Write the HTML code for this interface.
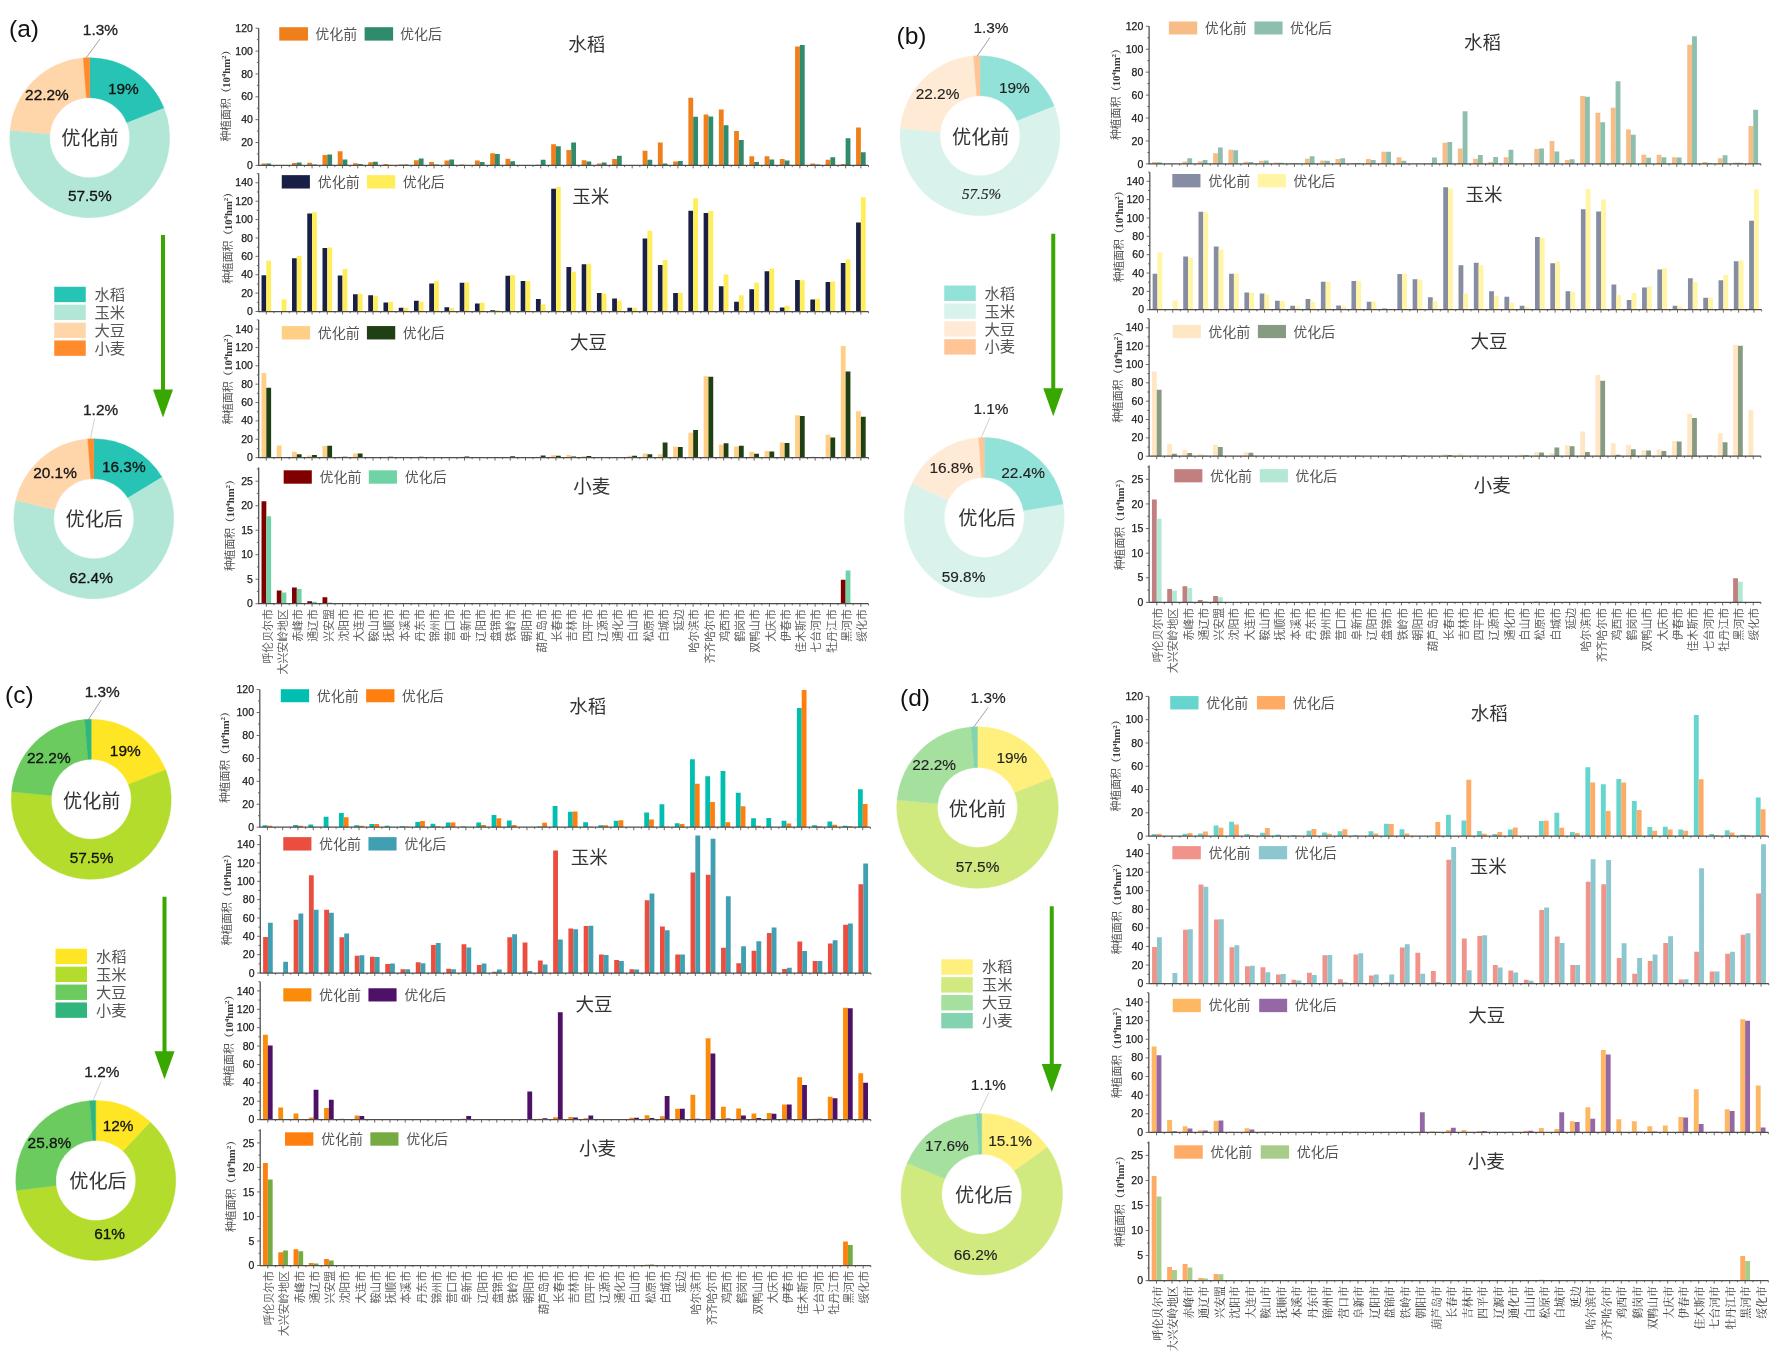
<!DOCTYPE html>
<html lang="zh"><head><meta charset="utf-8"><title>种植结构优化</title>
<style>
html,body{margin:0;padding:0;background:#fff;}
body{width:1777px;height:1358px;overflow:hidden;}
svg{display:block;font-family:"Liberation Sans","Noto Sans CJK SC",sans-serif;filter:blur(0.45px);}
</style></head><body>
<svg width="1777" height="1358" viewBox="0 0 1777 1358">
<rect width="1777" height="1358" fill="#fff"/>
<text x="9" y="37" font-size="24.5" fill="#111" text-anchor="start">(a)</text>
<path d="M89.7 57.7A80 80 0 0 1 164.08 108.25L126.89 122.98A40 40 0 0 0 89.7 97.7Z" fill="#27c4b5" stroke="#27c4b5" stroke-width="0.4"/>
<path d="M164.08 108.25A80 80 0 1 1 10.06 130.17L49.88 133.94A40 40 0 1 0 126.89 122.98Z" fill="#b2e7d8" stroke="#b2e7d8" stroke-width="0.4"/>
<path d="M10.06 130.17A80 80 0 0 1 83.17 57.97L86.44 97.83A40 40 0 0 0 49.88 133.94Z" fill="#ffd5aa" stroke="#ffd5aa" stroke-width="0.4"/>
<path d="M83.17 57.97A80 80 0 0 1 89.7 57.7L89.7 97.7A40 40 0 0 0 86.44 97.83Z" fill="#ff8b2c" stroke="#ff8b2c" stroke-width="0.4"/>
<path d="M100 39L86 58" stroke="#8a8a8a" stroke-width="0.8" fill="none"/>
<text x="123.4" y="94.04" font-size="15.4" fill="#111" text-anchor="middle" stroke="#111" stroke-width="0.3">19%</text>
<text x="89.75" y="200.54" font-size="15.4" fill="#111" text-anchor="middle" stroke="#111" stroke-width="0.3">57.5%</text>
<text x="46.9" y="100.29" font-size="15.4" fill="#111" text-anchor="middle" stroke="#111" stroke-width="0.3">22.2%</text>
<text x="100.4" y="34.94" font-size="15.4" fill="#222" text-anchor="middle" stroke="#222" stroke-width="0.3">1.3%</text>
<text x="90" y="145.22" font-size="19.2" fill="#333" text-anchor="middle">优化前</text>
<path d="M93.75 438.75A80 80 0 0 1 162.09 477.16L127.92 497.96A40 40 0 0 0 93.75 478.75Z" fill="#27c4b5" stroke="#27c4b5" stroke-width="0.4"/>
<path d="M162.09 477.16A80 80 0 1 1 15.9 500.32L54.83 509.53A40 40 0 1 0 127.92 497.96Z" fill="#b2e7d8" stroke="#b2e7d8" stroke-width="0.4"/>
<path d="M15.9 500.32A80 80 0 0 1 87.72 438.98L90.74 478.86A40 40 0 0 0 54.83 509.53Z" fill="#ffd5aa" stroke="#ffd5aa" stroke-width="0.4"/>
<path d="M87.72 438.98A80 80 0 0 1 93.75 438.75L93.75 478.75A40 40 0 0 0 90.74 478.86Z" fill="#ff8b2c" stroke="#ff8b2c" stroke-width="0.4"/>
<path d="M94.5 418.75L90.5 438.75" stroke="#c4c4c4" stroke-width="0.8" fill="none"/>
<text x="123.75" y="471.79" font-size="15.4" fill="#111" text-anchor="middle" stroke="#111" stroke-width="0.3">16.3%</text>
<text x="91" y="582.64" font-size="15.4" fill="#111" text-anchor="middle" stroke="#111" stroke-width="0.3">62.4%</text>
<text x="55" y="478.44" font-size="15.4" fill="#111" text-anchor="middle" stroke="#111" stroke-width="0.3">20.1%</text>
<text x="100.6" y="414.94" font-size="15.4" fill="#222" text-anchor="middle" stroke="#222" stroke-width="0.3">1.2%</text>
<text x="94.25" y="525.97" font-size="19.2" fill="#333" text-anchor="middle">优化后</text>
<rect x="54.25" y="286.75" width="31.5" height="15.4" fill="#27c4b5"/>
<text x="94.5" y="299.95" font-size="15.3" fill="#555" text-anchor="start">水稻</text>
<rect x="54.25" y="304.65" width="31.5" height="15.4" fill="#b2e7d8"/>
<text x="94.5" y="317.85" font-size="15.3" fill="#555" text-anchor="start">玉米</text>
<rect x="54.25" y="322.55" width="31.5" height="15.4" fill="#ffd5aa"/>
<text x="94.5" y="335.75" font-size="15.3" fill="#555" text-anchor="start">大豆</text>
<rect x="54.25" y="340.45" width="31.5" height="15.4" fill="#ff8b2c"/>
<text x="94.5" y="353.65" font-size="15.3" fill="#555" text-anchor="start">小麦</text>
<path d="M161 235h4V389.5h8L163 417.5L153 389.5h8z" fill="#38a700"/>
<path d="M261.52 165.4v-1.94h4.8v1.94zM292.01 165.4v-2.29h4.8v2.29zM307.26 165.4v-2.63h4.8v2.63zM322.5 165.4v-10.52h4.8v10.52zM337.75 165.4v-14.18h4.8v14.18zM352.99 165.4v-2.06h4.8v2.06zM368.24 165.4v-3.2h4.8v3.2zM383.48 165.4v-1.49h4.8v1.49zM398.73 165.4v-0.91h4.8v0.91zM413.97 165.4v-5.15h4.8v5.15zM429.22 165.4v-3.43h4.8v3.43zM444.46 165.4v-4.8h4.8v4.8zM459.71 165.4v-0.8h4.8v0.8zM474.95 165.4v-4.8h4.8v4.8zM490.2 165.4v-12.23h4.8v12.23zM505.44 165.4v-6.75h4.8v6.75zM535.93 165.4v-0.69h4.8v0.69zM551.18 165.4v-21.04h4.8v21.04zM566.42 165.4v-15.32h4.8v15.32zM581.67 165.4v-5.03h4.8v5.03zM596.91 165.4v-1.94h4.8v1.94zM612.16 165.4v-6.52h4.8v6.52zM642.65 165.4v-14.75h4.8v14.75zM657.89 165.4v-22.87h4.8v22.87zM673.14 165.4v-4h4.8v4zM688.38 165.4v-67.69h4.8v67.69zM703.63 165.4v-50.88h4.8v50.88zM718.87 165.4v-56.02h4.8v56.02zM734.12 165.4v-34.41h4.8v34.41zM749.36 165.4v-9.03h4.8v9.03zM764.61 165.4v-9.15h4.8v9.15zM779.85 165.4v-6.52h4.8v6.52zM795.1 165.4v-118.91h4.8v118.91zM810.34 165.4v-1.94h4.8v1.94zM825.59 165.4v-5.72h4.8v5.72zM840.83 165.4v-1.37h4.8v1.37zM856.08 165.4v-37.84h4.8v37.84z" fill="#ef7f1a"/>
<path d="M266.32 165.4v-1.94h4.8v1.94zM296.81 165.4v-2.86h4.8v2.86zM312.06 165.4v-0.91h4.8v0.91zM327.3 165.4v-10.86h4.8v10.86zM342.55 165.4v-5.95h4.8v5.95zM357.79 165.4v-1.37h4.8v1.37zM373.04 165.4v-3.77h4.8v3.77zM388.28 165.4v-0.34h4.8v0.34zM403.53 165.4v-0.8h4.8v0.8zM418.77 165.4v-6.86h4.8v6.86zM434.02 165.4v-0.91h4.8v0.91zM449.26 165.4v-5.95h4.8v5.95zM464.51 165.4v-0.11h4.8v0.11zM479.75 165.4v-3.43h4.8v3.43zM495 165.4v-11.43h4.8v11.43zM510.24 165.4v-4.23h4.8v4.23zM540.73 165.4v-5.72h4.8v5.72zM555.98 165.4v-19.09h4.8v19.09zM571.22 165.4v-22.87h4.8v22.87zM586.47 165.4v-4h4.8v4zM601.71 165.4v-2.86h4.8v2.86zM616.96 165.4v-9.72h4.8v9.72zM647.45 165.4v-5.72h4.8v5.72zM662.69 165.4v-1.94h4.8v1.94zM677.94 165.4v-4.34h4.8v4.34zM693.18 165.4v-48.59h4.8v48.59zM708.43 165.4v-48.82h4.8v48.82zM723.67 165.4v-40.13h4.8v40.13zM738.92 165.4v-25.5h4.8v25.5zM754.16 165.4v-3.43h4.8v3.43zM769.41 165.4v-5.95h4.8v5.95zM784.65 165.4v-4.8h4.8v4.8zM799.9 165.4v-120.51h4.8v120.51zM815.14 165.4v-0.91h4.8v0.91zM830.39 165.4v-8.23h4.8v8.23zM845.63 165.4v-27.21h4.8v27.21zM860.88 165.4v-13.03h4.8v13.03z" fill="#2f8b6b"/>
<path d="M258.7 165.4h-3.2M258.7 153.97h-1.8M258.7 142.53h-3.2M258.7 131.1h-1.8M258.7 119.67h-3.2M258.7 108.23h-1.8M258.7 96.8h-3.2M258.7 85.37h-1.8M258.7 73.93h-3.2M258.7 62.5h-1.8M258.7 51.07h-3.2M258.7 39.63h-1.8M258.7 28.2h-3.2M266.32 165.4v3M273.94 165.4v1.7M281.57 165.4v3M289.19 165.4v1.7M296.81 165.4v3M304.44 165.4v1.7M312.06 165.4v3M319.68 165.4v1.7M327.3 165.4v3M334.93 165.4v1.7M342.55 165.4v3M350.17 165.4v1.7M357.79 165.4v3M365.42 165.4v1.7M373.04 165.4v3M380.66 165.4v1.7M388.28 165.4v3M395.9 165.4v1.7M403.53 165.4v3M411.15 165.4v1.7M418.77 165.4v3M426.39 165.4v1.7M434.02 165.4v3M441.64 165.4v1.7M449.26 165.4v3M456.88 165.4v1.7M464.51 165.4v3M472.13 165.4v1.7M479.75 165.4v3M487.37 165.4v1.7M495 165.4v3M502.62 165.4v1.7M510.24 165.4v3M517.86 165.4v1.7M525.49 165.4v3M533.11 165.4v1.7M540.73 165.4v3M548.35 165.4v1.7M555.98 165.4v3M563.6 165.4v1.7M571.22 165.4v3M578.84 165.4v1.7M586.47 165.4v3M594.09 165.4v1.7M601.71 165.4v3M609.33 165.4v1.7M616.96 165.4v3M624.58 165.4v1.7M632.2 165.4v3M639.82 165.4v1.7M647.45 165.4v3M655.07 165.4v1.7M662.69 165.4v3M670.31 165.4v1.7M677.94 165.4v3M685.56 165.4v1.7M693.18 165.4v3M700.8 165.4v1.7M708.43 165.4v3M716.05 165.4v1.7M723.67 165.4v3M731.29 165.4v1.7M738.92 165.4v3M746.54 165.4v1.7M754.16 165.4v3M761.78 165.4v1.7M769.41 165.4v3M777.03 165.4v1.7M784.65 165.4v3M792.27 165.4v1.7M799.9 165.4v3M807.52 165.4v1.7M815.14 165.4v3M822.76 165.4v1.7M830.39 165.4v3M838.01 165.4v1.7M845.63 165.4v3M853.25 165.4v1.7M860.88 165.4v3M868.5 165.4v1.7" fill="none" stroke="#5a5a5a" stroke-width="0.9"/>
<path d="M258.7 28.2V165.4H868.5" fill="none" stroke="#4d4d4d" stroke-width="1.25"/>
<text x="252.9" y="169" font-size="10.5" fill="#1a1a1a" text-anchor="end" stroke="#1a1a1a" stroke-width="0.25">0</text>
<text x="252.9" y="146.13" font-size="10.5" fill="#1a1a1a" text-anchor="end" stroke="#1a1a1a" stroke-width="0.25">20</text>
<text x="252.9" y="123.27" font-size="10.5" fill="#1a1a1a" text-anchor="end" stroke="#1a1a1a" stroke-width="0.25">40</text>
<text x="252.9" y="100.4" font-size="10.5" fill="#1a1a1a" text-anchor="end" stroke="#1a1a1a" stroke-width="0.25">60</text>
<text x="252.9" y="77.53" font-size="10.5" fill="#1a1a1a" text-anchor="end" stroke="#1a1a1a" stroke-width="0.25">80</text>
<text x="252.9" y="54.67" font-size="10.5" fill="#1a1a1a" text-anchor="end" stroke="#1a1a1a" stroke-width="0.25">100</text>
<text x="252.9" y="31.8" font-size="10.5" fill="#1a1a1a" text-anchor="end" stroke="#1a1a1a" stroke-width="0.25">120</text>
<text transform="translate(230 141.5) rotate(-90)" text-anchor="start" font-size="10.8" fill="#555">种植面积<tspan font-family='"Liberation Serif","Noto Serif CJK SC",serif' fill="#3a3a3a" font-weight="bold" font-size="10.6">（10<tspan font-size="7" dy="-3.8">4</tspan><tspan dy="3.8">hm</tspan><tspan font-size="7" dy="-3.8">2</tspan><tspan dy="3.8">）</tspan></tspan></text>
<rect x="279.27" y="27.22" width="28.7" height="13.39" fill="#ef7f1a"/>
<rect x="364.61" y="27.22" width="28.51" height="13.39" fill="#2f8b6b"/>
<text x="315.24" y="38.92" font-size="14" fill="#555" text-anchor="start">优化前</text>
<text x="400.01" y="38.92" font-size="14" fill="#555" text-anchor="start">优化后</text>
<text x="586.88" y="51.04" font-size="18.5" fill="#333" text-anchor="middle">水稻</text>
<path d="M261.52 311.5v-36.13h4.8v36.13zM292.01 311.5v-53.32h4.8v53.32zM307.26 311.5v-98.09h4.8v98.09zM322.5 311.5v-63.43h4.8v63.43zM337.75 311.5v-35.94h4.8v35.94zM352.99 311.5v-17.28h4.8v17.28zM368.24 311.5v-16.18h4.8v16.18zM383.48 311.5v-9.01h4.8v9.01zM398.73 311.5v-3.86h4.8v3.86zM413.97 311.5v-10.76h4.8v10.76zM429.22 311.5v-28.04h4.8v28.04zM444.46 311.5v-4.23h4.8v4.23zM459.71 311.5v-28.87h4.8v28.87zM474.95 311.5v-7.91h4.8v7.91zM490.2 311.5v-1.2h4.8v1.2zM505.44 311.5v-35.76h4.8v35.76zM520.69 311.5v-30.61h4.8v30.61zM535.93 311.5v-12.5h4.8v12.5zM551.18 311.5v-122.72h4.8v122.72zM566.42 311.5v-44.59h4.8v44.59zM581.67 311.5v-47.16h4.8v47.16zM596.91 311.5v-18.48h4.8v18.48zM612.16 311.5v-13.05h4.8v13.05zM627.4 311.5v-3.86h4.8v3.86zM642.65 311.5v-72.9h4.8v72.9zM657.89 311.5v-46.52h4.8v46.52zM673.14 311.5v-18.48h4.8v18.48zM688.38 311.5v-100.75h4.8v100.75zM703.63 311.5v-98.46h4.8v98.46zM718.87 311.5v-25.37h4.8v25.37zM734.12 311.5v-9.65h4.8v9.65zM749.36 311.5v-22.34h4.8v22.34zM764.61 311.5v-40.17h4.8v40.17zM779.85 311.5v-4.04h4.8v4.04zM795.1 311.5v-31.53h4.8v31.53zM810.34 311.5v-11.95h4.8v11.95zM825.59 311.5v-29.6h4.8v29.6zM840.83 311.5v-48.45h4.8v48.45zM856.08 311.5v-89.08h4.8v89.08z" fill="#1a1f45"/>
<path d="M266.32 311.5v-50.74h4.8v50.74zM281.57 311.5v-12.32h4.8v12.32zM296.81 311.5v-55.43h4.8v55.43zM312.06 311.5v-99.28h4.8v99.28zM327.3 311.5v-63.89h4.8v63.89zM342.55 311.5v-42.47h4.8v42.47zM357.79 311.5v-17.65h4.8v17.65zM373.04 311.5v-15.81h4.8v15.81zM388.28 311.5v-9.65h4.8v9.65zM403.53 311.5v-3.86h4.8v3.86zM418.77 311.5v-9.65h4.8v9.65zM434.02 311.5v-30.24h4.8v30.24zM449.26 311.5v-3.49h4.8v3.49zM464.51 311.5v-29.23h4.8v29.23zM479.75 311.5v-8.83h4.8v8.83zM495 311.5v-1.56h4.8v1.56zM510.24 311.5v-36.59h4.8v36.59zM525.49 311.5v-30.61h4.8v30.61zM540.73 311.5v-7.35h4.8v7.35zM555.98 311.5v-124.47h4.8v124.47zM571.22 311.5v-39.81h4.8v39.81zM586.47 311.5v-47.71h4.8v47.71zM601.71 311.5v-17.74h4.8v17.74zM616.96 311.5v-10.76h4.8v10.76zM632.2 311.5v-3.86h4.8v3.86zM647.45 311.5v-80.81h4.8v80.81zM662.69 311.5v-51.39h4.8v51.39zM677.94 311.5v-18.66h4.8v18.66zM693.18 311.5v-113.26h4.8v113.26zM708.43 311.5v-100.39h4.8v100.39zM723.67 311.5v-36.96h4.8v36.96zM738.92 311.5v-16.18h4.8v16.18zM754.16 311.5v-28.87h4.8v28.87zM769.41 311.5v-43.11h4.8v43.11zM784.65 311.5v-5.79h4.8v5.79zM799.9 311.5v-31.16h4.8v31.16zM815.14 311.5v-12.69h4.8v12.69zM830.39 311.5v-29.97h4.8v29.97zM845.63 311.5v-51.94h4.8v51.94zM860.88 311.5v-114.27h4.8v114.27z" fill="#ffee5a"/>
<path d="M258.7 311.5h-3.2M258.7 302.31h-1.8M258.7 293.11h-3.2M258.7 283.92h-1.8M258.7 274.73h-3.2M258.7 265.54h-1.8M258.7 256.34h-3.2M258.7 247.15h-1.8M258.7 237.96h-3.2M258.7 228.76h-1.8M258.7 219.57h-3.2M258.7 210.38h-1.8M258.7 201.19h-3.2M258.7 191.99h-1.8M258.7 182.8h-3.2M258.7 173.61h-1.8M266.32 311.5v3M273.94 311.5v1.7M281.57 311.5v3M289.19 311.5v1.7M296.81 311.5v3M304.44 311.5v1.7M312.06 311.5v3M319.68 311.5v1.7M327.3 311.5v3M334.93 311.5v1.7M342.55 311.5v3M350.17 311.5v1.7M357.79 311.5v3M365.42 311.5v1.7M373.04 311.5v3M380.66 311.5v1.7M388.28 311.5v3M395.9 311.5v1.7M403.53 311.5v3M411.15 311.5v1.7M418.77 311.5v3M426.39 311.5v1.7M434.02 311.5v3M441.64 311.5v1.7M449.26 311.5v3M456.88 311.5v1.7M464.51 311.5v3M472.13 311.5v1.7M479.75 311.5v3M487.37 311.5v1.7M495 311.5v3M502.62 311.5v1.7M510.24 311.5v3M517.86 311.5v1.7M525.49 311.5v3M533.11 311.5v1.7M540.73 311.5v3M548.35 311.5v1.7M555.98 311.5v3M563.6 311.5v1.7M571.22 311.5v3M578.84 311.5v1.7M586.47 311.5v3M594.09 311.5v1.7M601.71 311.5v3M609.33 311.5v1.7M616.96 311.5v3M624.58 311.5v1.7M632.2 311.5v3M639.82 311.5v1.7M647.45 311.5v3M655.07 311.5v1.7M662.69 311.5v3M670.31 311.5v1.7M677.94 311.5v3M685.56 311.5v1.7M693.18 311.5v3M700.8 311.5v1.7M708.43 311.5v3M716.05 311.5v1.7M723.67 311.5v3M731.29 311.5v1.7M738.92 311.5v3M746.54 311.5v1.7M754.16 311.5v3M761.78 311.5v1.7M769.41 311.5v3M777.03 311.5v1.7M784.65 311.5v3M792.27 311.5v1.7M799.9 311.5v3M807.52 311.5v1.7M815.14 311.5v3M822.76 311.5v1.7M830.39 311.5v3M838.01 311.5v1.7M845.63 311.5v3M853.25 311.5v1.7M860.88 311.5v3M868.5 311.5v1.7" fill="none" stroke="#5a5a5a" stroke-width="0.9"/>
<path d="M258.7 173.61V311.5H868.5" fill="none" stroke="#4d4d4d" stroke-width="1.25"/>
<text x="252.9" y="315.1" font-size="10.5" fill="#1a1a1a" text-anchor="end" stroke="#1a1a1a" stroke-width="0.25">0</text>
<text x="252.9" y="296.71" font-size="10.5" fill="#1a1a1a" text-anchor="end" stroke="#1a1a1a" stroke-width="0.25">20</text>
<text x="252.9" y="278.33" font-size="10.5" fill="#1a1a1a" text-anchor="end" stroke="#1a1a1a" stroke-width="0.25">40</text>
<text x="252.9" y="259.94" font-size="10.5" fill="#1a1a1a" text-anchor="end" stroke="#1a1a1a" stroke-width="0.25">60</text>
<text x="252.9" y="241.56" font-size="10.5" fill="#1a1a1a" text-anchor="end" stroke="#1a1a1a" stroke-width="0.25">80</text>
<text x="252.9" y="223.17" font-size="10.5" fill="#1a1a1a" text-anchor="end" stroke="#1a1a1a" stroke-width="0.25">100</text>
<text x="252.9" y="204.79" font-size="10.5" fill="#1a1a1a" text-anchor="end" stroke="#1a1a1a" stroke-width="0.25">120</text>
<text x="252.9" y="186.4" font-size="10.5" fill="#1a1a1a" text-anchor="end" stroke="#1a1a1a" stroke-width="0.25">140</text>
<text transform="translate(231.5 283.8) rotate(-90)" text-anchor="start" font-size="10.8" fill="#555">种植面积<tspan font-family='"Liberation Serif","Noto Serif CJK SC",serif' fill="#3a3a3a" font-weight="bold" font-size="10.6">（10<tspan font-size="7" dy="-3.8">4</tspan><tspan dy="3.8">hm</tspan><tspan font-size="7" dy="-3.8">2</tspan><tspan dy="3.8">）</tspan></tspan></text>
<rect x="281.76" y="175.14" width="28.13" height="13.39" fill="#1a1f45"/>
<rect x="366.91" y="175.14" width="28.32" height="13.39" fill="#ffee5a"/>
<text x="317.73" y="186.84" font-size="14" fill="#555" text-anchor="start">优化前</text>
<text x="402.69" y="186.84" font-size="14" fill="#555" text-anchor="start">优化后</text>
<text x="590.71" y="202.5" font-size="18.5" fill="#333" text-anchor="middle">玉米</text>
<path d="M261.52 457.6v-84.72h4.8v84.72zM276.77 457.6v-12.12h4.8v12.12zM292.01 457.6v-5.97h4.8v5.97zM307.26 457.6v-2.11h4.8v2.11zM322.5 457.6v-11.56h4.8v11.56zM337.75 457.6v-0.73h4.8v0.73zM352.99 457.6v-4.04h4.8v4.04zM368.24 457.6v-0.55h4.8v0.55zM383.48 457.6v-0.37h4.8v0.37zM413.97 457.6v-0.55h4.8v0.55zM429.22 457.6v-0.18h4.8v0.18zM459.71 457.6v-0.73h4.8v0.73zM505.44 457.6v-0.55h4.8v0.55zM520.69 457.6v-0.28h4.8v0.28zM535.93 457.6v-0.92h4.8v0.92zM551.18 457.6v-2.29h4.8v2.29zM566.42 457.6v-2.48h4.8v2.48zM581.67 457.6v-1.38h4.8v1.38zM596.91 457.6v-0.55h4.8v0.55zM612.16 457.6v-0.55h4.8v0.55zM627.4 457.6v-1.74h4.8v1.74zM642.65 457.6v-4.22h4.8v4.22zM657.89 457.6v-3.3h4.8v3.3zM673.14 457.6v-10.92h4.8v10.92zM688.38 457.6v-24.78h4.8v24.78zM703.63 457.6v-81.23h4.8v81.23zM718.87 457.6v-12.85h4.8v12.85zM734.12 457.6v-11.11h4.8v11.11zM749.36 457.6v-5.97h4.8v5.97zM764.61 457.6v-6.7h4.8v6.7zM779.85 457.6v-15.14h4.8v15.14zM795.1 457.6v-42.41h4.8v42.41zM810.34 457.6v-0.73h4.8v0.73zM825.59 457.6v-22.85h4.8v22.85zM840.83 457.6v-111.61h4.8v111.61zM856.08 457.6v-46.26h4.8v46.26z" fill="#ffcf85"/>
<path d="M266.32 457.6v-69.94h4.8v69.94zM281.57 457.6v-0.37h4.8v0.37zM296.81 457.6v-3.3h4.8v3.3zM312.06 457.6v-2.48h4.8v2.48zM327.3 457.6v-11.93h4.8v11.93zM342.55 457.6v-0.92h4.8v0.92zM357.79 457.6v-4.04h4.8v4.04zM373.04 457.6v-0.55h4.8v0.55zM388.28 457.6v-0.73h4.8v0.73zM418.77 457.6v-0.73h4.8v0.73zM434.02 457.6v-0.18h4.8v0.18zM464.51 457.6v-1.19h4.8v1.19zM510.24 457.6v-1.38h4.8v1.38zM525.49 457.6v-0.18h4.8v0.18zM540.73 457.6v-2.11h4.8v2.11zM555.98 457.6v-1.74h4.8v1.74zM571.22 457.6v-1.19h4.8v1.19zM586.47 457.6v-1.56h4.8v1.56zM601.71 457.6v-0.37h4.8v0.37zM616.96 457.6v-0.37h4.8v0.37zM632.2 457.6v-1.93h4.8v1.93zM647.45 457.6v-3.3h4.8v3.3zM662.69 457.6v-15.14h4.8v15.14zM677.94 457.6v-10.56h4.8v10.56zM693.18 457.6v-27.63h4.8v27.63zM708.43 457.6v-80.86h4.8v80.86zM723.67 457.6v-14.23h4.8v14.23zM738.92 457.6v-11.93h4.8v11.93zM754.16 457.6v-3.85h4.8v3.85zM769.41 457.6v-6.15h4.8v6.15zM784.65 457.6v-14.59h4.8v14.59zM799.9 457.6v-41.49h4.8v41.49zM815.14 457.6v-0.55h4.8v0.55zM830.39 457.6v-20.19h4.8v20.19zM845.63 457.6v-86h4.8v86zM860.88 457.6v-40.75h4.8v40.75z" fill="#1e4012"/>
<path d="M258.7 457.6h-3.2M258.7 448.42h-1.8M258.7 439.24h-3.2M258.7 430.06h-1.8M258.7 420.89h-3.2M258.7 411.71h-1.8M258.7 402.53h-3.2M258.7 393.35h-1.8M258.7 384.17h-3.2M258.7 374.99h-1.8M258.7 365.81h-3.2M258.7 356.64h-1.8M258.7 347.46h-3.2M258.7 338.28h-1.8M258.7 329.1h-3.2M258.7 319.92h-1.8M266.32 457.6v3M273.94 457.6v1.7M281.57 457.6v3M289.19 457.6v1.7M296.81 457.6v3M304.44 457.6v1.7M312.06 457.6v3M319.68 457.6v1.7M327.3 457.6v3M334.93 457.6v1.7M342.55 457.6v3M350.17 457.6v1.7M357.79 457.6v3M365.42 457.6v1.7M373.04 457.6v3M380.66 457.6v1.7M388.28 457.6v3M395.9 457.6v1.7M403.53 457.6v3M411.15 457.6v1.7M418.77 457.6v3M426.39 457.6v1.7M434.02 457.6v3M441.64 457.6v1.7M449.26 457.6v3M456.88 457.6v1.7M464.51 457.6v3M472.13 457.6v1.7M479.75 457.6v3M487.37 457.6v1.7M495 457.6v3M502.62 457.6v1.7M510.24 457.6v3M517.86 457.6v1.7M525.49 457.6v3M533.11 457.6v1.7M540.73 457.6v3M548.35 457.6v1.7M555.98 457.6v3M563.6 457.6v1.7M571.22 457.6v3M578.84 457.6v1.7M586.47 457.6v3M594.09 457.6v1.7M601.71 457.6v3M609.33 457.6v1.7M616.96 457.6v3M624.58 457.6v1.7M632.2 457.6v3M639.82 457.6v1.7M647.45 457.6v3M655.07 457.6v1.7M662.69 457.6v3M670.31 457.6v1.7M677.94 457.6v3M685.56 457.6v1.7M693.18 457.6v3M700.8 457.6v1.7M708.43 457.6v3M716.05 457.6v1.7M723.67 457.6v3M731.29 457.6v1.7M738.92 457.6v3M746.54 457.6v1.7M754.16 457.6v3M761.78 457.6v1.7M769.41 457.6v3M777.03 457.6v1.7M784.65 457.6v3M792.27 457.6v1.7M799.9 457.6v3M807.52 457.6v1.7M815.14 457.6v3M822.76 457.6v1.7M830.39 457.6v3M838.01 457.6v1.7M845.63 457.6v3M853.25 457.6v1.7M860.88 457.6v3M868.5 457.6v1.7" fill="none" stroke="#5a5a5a" stroke-width="0.9"/>
<path d="M258.7 319.92V457.6H868.5" fill="none" stroke="#4d4d4d" stroke-width="1.25"/>
<text x="252.9" y="461.2" font-size="10.5" fill="#1a1a1a" text-anchor="end" stroke="#1a1a1a" stroke-width="0.25">0</text>
<text x="252.9" y="442.84" font-size="10.5" fill="#1a1a1a" text-anchor="end" stroke="#1a1a1a" stroke-width="0.25">20</text>
<text x="252.9" y="424.49" font-size="10.5" fill="#1a1a1a" text-anchor="end" stroke="#1a1a1a" stroke-width="0.25">40</text>
<text x="252.9" y="406.13" font-size="10.5" fill="#1a1a1a" text-anchor="end" stroke="#1a1a1a" stroke-width="0.25">60</text>
<text x="252.9" y="387.77" font-size="10.5" fill="#1a1a1a" text-anchor="end" stroke="#1a1a1a" stroke-width="0.25">80</text>
<text x="252.9" y="369.41" font-size="10.5" fill="#1a1a1a" text-anchor="end" stroke="#1a1a1a" stroke-width="0.25">100</text>
<text x="252.9" y="351.06" font-size="10.5" fill="#1a1a1a" text-anchor="end" stroke="#1a1a1a" stroke-width="0.25">120</text>
<text x="252.9" y="332.7" font-size="10.5" fill="#1a1a1a" text-anchor="end" stroke="#1a1a1a" stroke-width="0.25">140</text>
<text transform="translate(231.5 424.6) rotate(-90)" text-anchor="start" font-size="10.8" fill="#555">种植面积<tspan font-family='"Liberation Serif","Noto Serif CJK SC",serif' fill="#3a3a3a" font-weight="bold" font-size="10.6">（10<tspan font-size="7" dy="-3.8">4</tspan><tspan dy="3.8">hm</tspan><tspan font-size="7" dy="-3.8">2</tspan><tspan dy="3.8">）</tspan></tspan></text>
<rect x="281.76" y="326.07" width="28.32" height="13.39" fill="#ffcf85"/>
<rect x="366.91" y="326.07" width="28.32" height="13.39" fill="#1e4012"/>
<text x="317.73" y="337.77" font-size="14" fill="#555" text-anchor="start">优化前</text>
<text x="402.69" y="337.77" font-size="14" fill="#555" text-anchor="start">优化后</text>
<text x="588.51" y="349.13" font-size="18.5" fill="#333" text-anchor="middle">大豆</text>
<path d="M261.52 603.7v-102.41h4.8v102.41zM276.77 603.7v-13.23h4.8v13.23zM292.01 603.7v-16.17h4.8v16.17zM307.26 603.7v-2.45h4.8v2.45zM322.5 603.7v-6.37h4.8v6.37zM337.75 603.7v-0.49h4.8v0.49zM642.65 603.7v-0.74h4.8v0.74zM657.89 603.7v-0.49h4.8v0.49zM840.83 603.7v-24.01h4.8v24.01zM856.08 603.7v-0.25h4.8v0.25z" fill="#800000"/>
<path d="M266.32 603.7v-87.47h4.8v87.47zM281.57 603.7v-11.27h4.8v11.27zM296.81 603.7v-14.7h4.8v14.7zM312.06 603.7v-1.96h4.8v1.96zM327.3 603.7v-1.23h4.8v1.23zM342.55 603.7v-0.49h4.8v0.49zM647.45 603.7v-0.49h4.8v0.49zM662.69 603.7v-0.25h4.8v0.25zM845.63 603.7v-33.08h4.8v33.08zM860.88 603.7v-0.15h4.8v0.15z" fill="#6fd3a6"/>
<path d="M258.7 603.7h-3.2M258.7 591.45h-1.8M258.7 579.2h-3.2M258.7 566.95h-1.8M258.7 554.7h-3.2M258.7 542.45h-1.8M258.7 530.2h-3.2M258.7 517.95h-1.8M258.7 505.7h-3.2M258.7 493.45h-1.8M258.7 481.2h-3.2M258.7 468.95h-1.8M266.32 603.7v3M273.94 603.7v1.7M281.57 603.7v3M289.19 603.7v1.7M296.81 603.7v3M304.44 603.7v1.7M312.06 603.7v3M319.68 603.7v1.7M327.3 603.7v3M334.93 603.7v1.7M342.55 603.7v3M350.17 603.7v1.7M357.79 603.7v3M365.42 603.7v1.7M373.04 603.7v3M380.66 603.7v1.7M388.28 603.7v3M395.9 603.7v1.7M403.53 603.7v3M411.15 603.7v1.7M418.77 603.7v3M426.39 603.7v1.7M434.02 603.7v3M441.64 603.7v1.7M449.26 603.7v3M456.88 603.7v1.7M464.51 603.7v3M472.13 603.7v1.7M479.75 603.7v3M487.37 603.7v1.7M495 603.7v3M502.62 603.7v1.7M510.24 603.7v3M517.86 603.7v1.7M525.49 603.7v3M533.11 603.7v1.7M540.73 603.7v3M548.35 603.7v1.7M555.98 603.7v3M563.6 603.7v1.7M571.22 603.7v3M578.84 603.7v1.7M586.47 603.7v3M594.09 603.7v1.7M601.71 603.7v3M609.33 603.7v1.7M616.96 603.7v3M624.58 603.7v1.7M632.2 603.7v3M639.82 603.7v1.7M647.45 603.7v3M655.07 603.7v1.7M662.69 603.7v3M670.31 603.7v1.7M677.94 603.7v3M685.56 603.7v1.7M693.18 603.7v3M700.8 603.7v1.7M708.43 603.7v3M716.05 603.7v1.7M723.67 603.7v3M731.29 603.7v1.7M738.92 603.7v3M746.54 603.7v1.7M754.16 603.7v3M761.78 603.7v1.7M769.41 603.7v3M777.03 603.7v1.7M784.65 603.7v3M792.27 603.7v1.7M799.9 603.7v3M807.52 603.7v1.7M815.14 603.7v3M822.76 603.7v1.7M830.39 603.7v3M838.01 603.7v1.7M845.63 603.7v3M853.25 603.7v1.7M860.88 603.7v3M868.5 603.7v1.7" fill="none" stroke="#5a5a5a" stroke-width="0.9"/>
<path d="M258.7 467.48V603.7H868.5" fill="none" stroke="#4d4d4d" stroke-width="1.25"/>
<text x="252.9" y="607.3" font-size="10.5" fill="#1a1a1a" text-anchor="end" stroke="#1a1a1a" stroke-width="0.25">0</text>
<text x="252.9" y="582.8" font-size="10.5" fill="#1a1a1a" text-anchor="end" stroke="#1a1a1a" stroke-width="0.25">5</text>
<text x="252.9" y="558.3" font-size="10.5" fill="#1a1a1a" text-anchor="end" stroke="#1a1a1a" stroke-width="0.25">10</text>
<text x="252.9" y="533.8" font-size="10.5" fill="#1a1a1a" text-anchor="end" stroke="#1a1a1a" stroke-width="0.25">15</text>
<text x="252.9" y="509.3" font-size="10.5" fill="#1a1a1a" text-anchor="end" stroke="#1a1a1a" stroke-width="0.25">20</text>
<text x="252.9" y="484.8" font-size="10.5" fill="#1a1a1a" text-anchor="end" stroke="#1a1a1a" stroke-width="0.25">25</text>
<text transform="translate(233.8 571.1) rotate(-90)" text-anchor="start" font-size="10.8" fill="#555">种植面积<tspan font-family='"Liberation Serif","Noto Serif CJK SC",serif' fill="#3a3a3a" font-weight="bold" font-size="10.6">（10<tspan font-size="7" dy="-3.8">4</tspan><tspan dy="3.8">hm</tspan><tspan font-size="7" dy="-3.8">2</tspan><tspan dy="3.8">）</tspan></tspan></text>
<rect x="283.67" y="470.31" width="28.13" height="13.39" fill="#800000"/>
<rect x="368.82" y="470.31" width="28.13" height="13.39" fill="#6fd3a6"/>
<text x="319.45" y="482.01" font-size="14" fill="#555" text-anchor="start">优化前</text>
<text x="404.8" y="482.01" font-size="14" fill="#555" text-anchor="start">优化后</text>
<text x="591.66" y="492.69" font-size="18.5" fill="#333" text-anchor="middle">小麦</text>
<text transform="translate(271.52 609.1) rotate(-90)" text-anchor="end" font-size="10.9" fill="#606060">呼伦贝尔市</text>
<text transform="translate(286.77 609.1) rotate(-90)" text-anchor="end" font-size="10.9" fill="#606060">大兴安岭地区</text>
<text transform="translate(302.01 609.1) rotate(-90)" text-anchor="end" font-size="10.9" fill="#606060">赤峰市</text>
<text transform="translate(317.26 609.1) rotate(-90)" text-anchor="end" font-size="10.9" fill="#606060">通辽市</text>
<text transform="translate(332.5 609.1) rotate(-90)" text-anchor="end" font-size="10.9" fill="#606060">兴安盟</text>
<text transform="translate(347.75 609.1) rotate(-90)" text-anchor="end" font-size="10.9" fill="#606060">沈阳市</text>
<text transform="translate(362.99 609.1) rotate(-90)" text-anchor="end" font-size="10.9" fill="#606060">大连市</text>
<text transform="translate(378.24 609.1) rotate(-90)" text-anchor="end" font-size="10.9" fill="#606060">鞍山市</text>
<text transform="translate(393.48 609.1) rotate(-90)" text-anchor="end" font-size="10.9" fill="#606060">抚顺市</text>
<text transform="translate(408.73 609.1) rotate(-90)" text-anchor="end" font-size="10.9" fill="#606060">本溪市</text>
<text transform="translate(423.97 609.1) rotate(-90)" text-anchor="end" font-size="10.9" fill="#606060">丹东市</text>
<text transform="translate(439.22 609.1) rotate(-90)" text-anchor="end" font-size="10.9" fill="#606060">锦州市</text>
<text transform="translate(454.46 609.1) rotate(-90)" text-anchor="end" font-size="10.9" fill="#606060">营口市</text>
<text transform="translate(469.71 609.1) rotate(-90)" text-anchor="end" font-size="10.9" fill="#606060">阜新市</text>
<text transform="translate(484.95 609.1) rotate(-90)" text-anchor="end" font-size="10.9" fill="#606060">辽阳市</text>
<text transform="translate(500.2 609.1) rotate(-90)" text-anchor="end" font-size="10.9" fill="#606060">盘锦市</text>
<text transform="translate(515.44 609.1) rotate(-90)" text-anchor="end" font-size="10.9" fill="#606060">铁岭市</text>
<text transform="translate(530.69 609.1) rotate(-90)" text-anchor="end" font-size="10.9" fill="#606060">朝阳市</text>
<text transform="translate(545.93 609.1) rotate(-90)" text-anchor="end" font-size="10.9" fill="#606060">葫芦岛市</text>
<text transform="translate(561.18 609.1) rotate(-90)" text-anchor="end" font-size="10.9" fill="#606060">长春市</text>
<text transform="translate(576.42 609.1) rotate(-90)" text-anchor="end" font-size="10.9" fill="#606060">吉林市</text>
<text transform="translate(591.67 609.1) rotate(-90)" text-anchor="end" font-size="10.9" fill="#606060">四平市</text>
<text transform="translate(606.91 609.1) rotate(-90)" text-anchor="end" font-size="10.9" fill="#606060">辽源市</text>
<text transform="translate(622.16 609.1) rotate(-90)" text-anchor="end" font-size="10.9" fill="#606060">通化市</text>
<text transform="translate(637.4 609.1) rotate(-90)" text-anchor="end" font-size="10.9" fill="#606060">白山市</text>
<text transform="translate(652.65 609.1) rotate(-90)" text-anchor="end" font-size="10.9" fill="#606060">松原市</text>
<text transform="translate(667.89 609.1) rotate(-90)" text-anchor="end" font-size="10.9" fill="#606060">白城市</text>
<text transform="translate(683.14 609.1) rotate(-90)" text-anchor="end" font-size="10.9" fill="#606060">延边</text>
<text transform="translate(698.38 609.1) rotate(-90)" text-anchor="end" font-size="10.9" fill="#606060">哈尔滨市</text>
<text transform="translate(713.63 609.1) rotate(-90)" text-anchor="end" font-size="10.9" fill="#606060">齐齐哈尔市</text>
<text transform="translate(728.87 609.1) rotate(-90)" text-anchor="end" font-size="10.9" fill="#606060">鸡西市</text>
<text transform="translate(744.12 609.1) rotate(-90)" text-anchor="end" font-size="10.9" fill="#606060">鹤岗市</text>
<text transform="translate(759.36 609.1) rotate(-90)" text-anchor="end" font-size="10.9" fill="#606060">双鸭山市</text>
<text transform="translate(774.61 609.1) rotate(-90)" text-anchor="end" font-size="10.9" fill="#606060">大庆市</text>
<text transform="translate(789.85 609.1) rotate(-90)" text-anchor="end" font-size="10.9" fill="#606060">伊春市</text>
<text transform="translate(805.1 609.1) rotate(-90)" text-anchor="end" font-size="10.9" fill="#606060">佳木斯市</text>
<text transform="translate(820.34 609.1) rotate(-90)" text-anchor="end" font-size="10.9" fill="#606060">七台河市</text>
<text transform="translate(835.59 609.1) rotate(-90)" text-anchor="end" font-size="10.9" fill="#606060">牡丹江市</text>
<text transform="translate(850.83 609.1) rotate(-90)" text-anchor="end" font-size="10.9" fill="#606060">黑河市</text>
<text transform="translate(866.08 609.1) rotate(-90)" text-anchor="end" font-size="10.9" fill="#606060">绥化市</text>
<text x="896.5" y="43.5" font-size="24.5" fill="#111" text-anchor="start">(b)</text>
<path d="M980 55.75A80 80 0 0 1 1054.38 106.3L1017.19 121.03A40 40 0 0 0 980 95.75Z" fill="#93e2da" stroke="#93e2da" stroke-width="0.4"/>
<path d="M1054.38 106.3A80 80 0 1 1 900.36 128.22L940.18 131.99A40 40 0 1 0 1017.19 121.03Z" fill="#d9f3ec" stroke="#d9f3ec" stroke-width="0.4"/>
<path d="M900.36 128.22A80 80 0 0 1 973.47 56.02L976.74 95.88A40 40 0 0 0 940.18 131.99Z" fill="#ffead5" stroke="#ffead5" stroke-width="0.4"/>
<path d="M973.47 56.02A80 80 0 0 1 980 55.75L980 95.75A40 40 0 0 0 976.74 95.88Z" fill="#ffc596" stroke="#ffc596" stroke-width="0.4"/>
<path d="M990 37.5L977 56.25" stroke="#8a8a8a" stroke-width="0.8" fill="none"/>
<text x="1014.4" y="92.64" font-size="15.4" fill="#222" text-anchor="middle" stroke="#222" stroke-width="0.15">19%</text>
<text x="981.55" y="199.17" font-size="15.2" fill="#2a2a2a" text-anchor="middle" font-family='"Liberation Serif","Noto Serif CJK SC",serif' font-style="italic" stroke="#2a2a2a" stroke-width="0.2">57.5%</text>
<text x="937.5" y="99.04" font-size="15.4" fill="#222" text-anchor="middle" stroke="#222" stroke-width="0.15">22.2%</text>
<text x="991" y="33.44" font-size="15.4" fill="#222" text-anchor="middle" stroke="#222" stroke-width="0.15">1.3%</text>
<text x="980.75" y="144.32" font-size="19.2" fill="#333" text-anchor="middle">优化前</text>
<path d="M984.25 437.5A80 80 0 0 1 1063.17 504.38L1023.71 510.94A40 40 0 0 0 984.25 477.5Z" fill="#93e2da" stroke="#93e2da" stroke-width="0.4"/>
<path d="M1063.17 504.38A80 80 0 1 1 912.12 482.9L948.18 500.2A40 40 0 1 0 1023.71 510.94Z" fill="#d9f3ec" stroke="#d9f3ec" stroke-width="0.4"/>
<path d="M912.12 482.9A80 80 0 0 1 978.73 437.69L981.49 477.6A40 40 0 0 0 948.18 500.2Z" fill="#ffead5" stroke="#ffead5" stroke-width="0.4"/>
<path d="M978.73 437.69A80 80 0 0 1 984.25 437.5L984.25 477.5A40 40 0 0 0 981.49 477.6Z" fill="#ffc596" stroke="#ffc596" stroke-width="0.4"/>
<path d="M990 417.5L981.25 437.5" stroke="#c4c4c4" stroke-width="0.8" fill="none"/>
<text x="1023.1" y="477.64" font-size="15.4" fill="#222" text-anchor="middle" stroke="#222" stroke-width="0.15">22.4%</text>
<text x="963.5" y="582.04" font-size="15.4" fill="#222" text-anchor="middle" stroke="#222" stroke-width="0.15">59.8%</text>
<text x="951.25" y="473.29" font-size="15.4" fill="#222" text-anchor="middle" stroke="#222" stroke-width="0.15">16.8%</text>
<text x="991" y="413.94" font-size="15.4" fill="#222" text-anchor="middle" stroke="#222" stroke-width="0.15">1.1%</text>
<text x="987" y="525.22" font-size="19.2" fill="#333" text-anchor="middle">优化后</text>
<rect x="944.25" y="285.5" width="31.5" height="15.4" fill="#93e2da"/>
<text x="984.5" y="298.7" font-size="15.3" fill="#555" text-anchor="start">水稻</text>
<rect x="944.25" y="303.4" width="31.5" height="15.4" fill="#d9f3ec"/>
<text x="984.5" y="316.6" font-size="15.3" fill="#555" text-anchor="start">玉米</text>
<rect x="944.25" y="321.3" width="31.5" height="15.4" fill="#ffead5"/>
<text x="984.5" y="334.5" font-size="15.3" fill="#555" text-anchor="start">大豆</text>
<rect x="944.25" y="339.2" width="31.5" height="15.4" fill="#ffc596"/>
<text x="984.5" y="352.4" font-size="15.3" fill="#555" text-anchor="start">小麦</text>
<path d="M1051.25 233.75h4V388.2h8L1053.25 416.2L1043.25 388.2h8z" fill="#38a700"/>
<path d="M1151.93 163.9v-1.95h4.82v1.95zM1182.52 163.9v-2.29h4.82v2.29zM1197.81 163.9v-2.64h4.82v2.64zM1213.11 163.9v-10.55h4.82v10.55zM1228.4 163.9v-14.22h4.82v14.22zM1243.7 163.9v-2.06h4.82v2.06zM1258.99 163.9v-3.21h4.82v3.21zM1274.29 163.9v-1.49h4.82v1.49zM1289.58 163.9v-0.92h4.82v0.92zM1304.88 163.9v-5.16h4.82v5.16zM1320.17 163.9v-3.44h4.82v3.44zM1335.47 163.9v-4.82h4.82v4.82zM1350.76 163.9v-0.8h4.82v0.8zM1366.06 163.9v-4.82h4.82v4.82zM1381.35 163.9v-12.27h4.82v12.27zM1396.65 163.9v-6.77h4.82v6.77zM1427.24 163.9v-0.69h4.82v0.69zM1442.53 163.9v-21.1h4.82v21.1zM1457.83 163.9v-15.37h4.82v15.37zM1473.12 163.9v-5.05h4.82v5.05zM1488.42 163.9v-1.95h4.82v1.95zM1503.71 163.9v-6.54h4.82v6.54zM1534.3 163.9v-14.79h4.82v14.79zM1549.6 163.9v-22.93h4.82v22.93zM1564.89 163.9v-4.01h4.82v4.01zM1580.19 163.9v-67.88h4.82v67.88zM1595.48 163.9v-51.03h4.82v51.03zM1610.78 163.9v-56.19h4.82v56.19zM1626.07 163.9v-34.51h4.82v34.51zM1641.37 163.9v-9.06h4.82v9.06zM1656.66 163.9v-9.17h4.82v9.17zM1671.96 163.9v-6.54h4.82v6.54zM1687.25 163.9v-119.25h4.82v119.25zM1702.55 163.9v-1.95h4.82v1.95zM1717.84 163.9v-5.73h4.82v5.73zM1733.14 163.9v-1.38h4.82v1.38zM1748.43 163.9v-37.95h4.82v37.95z" fill="#f8bd87"/>
<path d="M1156.75 163.9v-1.72h4.82v1.72zM1187.34 163.9v-5.73h4.82v5.73zM1202.63 163.9v-4.01h4.82v4.01zM1217.93 163.9v-16.51h4.82v16.51zM1233.22 163.9v-13.65h4.82v13.65zM1248.52 163.9v-1.95h4.82v1.95zM1263.81 163.9v-3.44h4.82v3.44zM1279.11 163.9v-1.15h4.82v1.15zM1294.4 163.9v-0.57h4.82v0.57zM1309.7 163.9v-7.68h4.82v7.68zM1324.99 163.9v-3.1h4.82v3.1zM1340.29 163.9v-5.62h4.82v5.62zM1355.58 163.9v-0.8h4.82v0.8zM1370.88 163.9v-4.01h4.82v4.01zM1386.17 163.9v-12.04h4.82v12.04zM1401.47 163.9v-3.21h4.82v3.21zM1432.06 163.9v-6.31h4.82v6.31zM1447.35 163.9v-21.9h4.82v21.9zM1462.65 163.9v-52.75h4.82v52.75zM1477.94 163.9v-8.83h4.82v8.83zM1493.24 163.9v-6.88h4.82v6.88zM1508.53 163.9v-14.22h4.82v14.22zM1539.12 163.9v-15.37h4.82v15.37zM1554.42 163.9v-12.5h4.82v12.5zM1569.71 163.9v-4.59h4.82v4.59zM1585.01 163.9v-67.19h4.82v67.19zM1600.3 163.9v-41.62h4.82v41.62zM1615.6 163.9v-82.56h4.82v82.56zM1630.89 163.9v-29.13h4.82v29.13zM1646.19 163.9v-6.19h4.82v6.19zM1661.48 163.9v-6.54h4.82v6.54zM1676.78 163.9v-6.31h4.82v6.31zM1692.07 163.9v-127.62h4.82v127.62zM1707.37 163.9v-0.92h4.82v0.92zM1722.66 163.9v-8.6h4.82v8.6zM1737.96 163.9v-1.15h4.82v1.15zM1753.25 163.9v-54.12h4.82v54.12z" fill="#8dbfae"/>
<path d="M1149.1 163.9h-3.2M1149.1 152.43h-1.8M1149.1 140.97h-3.2M1149.1 129.5h-1.8M1149.1 118.03h-3.2M1149.1 106.57h-1.8M1149.1 95.1h-3.2M1149.1 83.63h-1.8M1149.1 72.17h-3.2M1149.1 60.7h-1.8M1149.1 49.23h-3.2M1149.1 37.77h-1.8M1149.1 26.3h-3.2M1156.75 163.9v3M1164.39 163.9v1.7M1172.04 163.9v3M1179.69 163.9v1.7M1187.34 163.9v3M1194.98 163.9v1.7M1202.63 163.9v3M1210.28 163.9v1.7M1217.93 163.9v3M1225.58 163.9v1.7M1233.22 163.9v3M1240.87 163.9v1.7M1248.52 163.9v3M1256.16 163.9v1.7M1263.81 163.9v3M1271.46 163.9v1.7M1279.11 163.9v3M1286.76 163.9v1.7M1294.4 163.9v3M1302.05 163.9v1.7M1309.7 163.9v3M1317.35 163.9v1.7M1324.99 163.9v3M1332.64 163.9v1.7M1340.29 163.9v3M1347.93 163.9v1.7M1355.58 163.9v3M1363.23 163.9v1.7M1370.88 163.9v3M1378.53 163.9v1.7M1386.17 163.9v3M1393.82 163.9v1.7M1401.47 163.9v3M1409.12 163.9v1.7M1416.76 163.9v3M1424.41 163.9v1.7M1432.06 163.9v3M1439.7 163.9v1.7M1447.35 163.9v3M1455 163.9v1.7M1462.65 163.9v3M1470.3 163.9v1.7M1477.94 163.9v3M1485.59 163.9v1.7M1493.24 163.9v3M1500.88 163.9v1.7M1508.53 163.9v3M1516.18 163.9v1.7M1523.83 163.9v3M1531.48 163.9v1.7M1539.12 163.9v3M1546.77 163.9v1.7M1554.42 163.9v3M1562.07 163.9v1.7M1569.71 163.9v3M1577.36 163.9v1.7M1585.01 163.9v3M1592.66 163.9v1.7M1600.3 163.9v3M1607.95 163.9v1.7M1615.6 163.9v3M1623.25 163.9v1.7M1630.89 163.9v3M1638.54 163.9v1.7M1646.19 163.9v3M1653.84 163.9v1.7M1661.48 163.9v3M1669.13 163.9v1.7M1676.78 163.9v3M1684.43 163.9v1.7M1692.07 163.9v3M1699.72 163.9v1.7M1707.37 163.9v3M1715.02 163.9v1.7M1722.66 163.9v3M1730.31 163.9v1.7M1737.96 163.9v3M1745.61 163.9v1.7M1753.25 163.9v3M1760.9 163.9v1.7" fill="none" stroke="#5a5a5a" stroke-width="0.9"/>
<path d="M1149.1 26.3V163.9H1760.9" fill="none" stroke="#4d4d4d" stroke-width="1.25"/>
<text x="1143.3" y="167.5" font-size="10.5" fill="#1a1a1a" text-anchor="end" stroke="#1a1a1a" stroke-width="0.25">0</text>
<text x="1143.3" y="144.57" font-size="10.5" fill="#1a1a1a" text-anchor="end" stroke="#1a1a1a" stroke-width="0.25">20</text>
<text x="1143.3" y="121.63" font-size="10.5" fill="#1a1a1a" text-anchor="end" stroke="#1a1a1a" stroke-width="0.25">40</text>
<text x="1143.3" y="98.7" font-size="10.5" fill="#1a1a1a" text-anchor="end" stroke="#1a1a1a" stroke-width="0.25">60</text>
<text x="1143.3" y="75.77" font-size="10.5" fill="#1a1a1a" text-anchor="end" stroke="#1a1a1a" stroke-width="0.25">80</text>
<text x="1143.3" y="52.83" font-size="10.5" fill="#1a1a1a" text-anchor="end" stroke="#1a1a1a" stroke-width="0.25">100</text>
<text x="1143.3" y="29.9" font-size="10.5" fill="#1a1a1a" text-anchor="end" stroke="#1a1a1a" stroke-width="0.25">120</text>
<text transform="translate(1120.2 140) rotate(-90)" text-anchor="start" font-size="10.8" fill="#555">种植面积<tspan font-family='"Liberation Serif","Noto Serif CJK SC",serif' fill="#3a3a3a" font-weight="bold" font-size="10.6">（10<tspan font-size="7" dy="-3.8">4</tspan><tspan dy="3.8">hm</tspan><tspan font-size="7" dy="-3.8">2</tspan><tspan dy="3.8">）</tspan></tspan></text>
<rect x="1168.89" y="21.48" width="28.32" height="13.01" fill="#f8bd87"/>
<rect x="1254.42" y="21.48" width="28.13" height="13.01" fill="#8dbfae"/>
<text x="1204.86" y="32.99" font-size="14" fill="#555" text-anchor="start">优化前</text>
<text x="1290.01" y="32.99" font-size="14" fill="#555" text-anchor="start">优化后</text>
<text x="1482.62" y="49.13" font-size="18.5" fill="#333" text-anchor="middle">水稻</text>
<path d="M1152.63 309.7v-36.04h4.82v36.04zM1183.22 309.7v-53.19h4.82v53.19zM1198.51 309.7v-97.86h4.82v97.86zM1213.81 309.7v-63.28h4.82v63.28zM1229.1 309.7v-35.86h4.82v35.86zM1244.4 309.7v-17.24h4.82v17.24zM1259.69 309.7v-16.14h4.82v16.14zM1274.99 309.7v-8.99h4.82v8.99zM1290.28 309.7v-3.85h4.82v3.85zM1305.58 309.7v-10.73h4.82v10.73zM1320.87 309.7v-27.97h4.82v27.97zM1336.17 309.7v-4.22h4.82v4.22zM1351.46 309.7v-28.8h4.82v28.8zM1366.76 309.7v-7.89h4.82v7.89zM1382.05 309.7v-1.19h4.82v1.19zM1397.35 309.7v-35.68h4.82v35.68zM1412.64 309.7v-30.54h4.82v30.54zM1427.94 309.7v-12.47h4.82v12.47zM1443.23 309.7v-122.44h4.82v122.44zM1458.53 309.7v-44.48h4.82v44.48zM1473.82 309.7v-47.05h4.82v47.05zM1489.12 309.7v-18.43h4.82v18.43zM1504.41 309.7v-13.02h4.82v13.02zM1519.71 309.7v-3.85h4.82v3.85zM1535 309.7v-72.73h4.82v72.73zM1550.3 309.7v-46.41h4.82v46.41zM1565.59 309.7v-18.43h4.82v18.43zM1580.89 309.7v-100.52h4.82v100.52zM1596.18 309.7v-98.23h4.82v98.23zM1611.48 309.7v-25.31h4.82v25.31zM1626.77 309.7v-9.63h4.82v9.63zM1642.07 309.7v-22.29h4.82v22.29zM1657.36 309.7v-40.08h4.82v40.08zM1672.66 309.7v-4.04h4.82v4.04zM1687.95 309.7v-31.46h4.82v31.46zM1703.25 309.7v-11.92h4.82v11.92zM1718.54 309.7v-29.53h4.82v29.53zM1733.84 309.7v-48.33h4.82v48.33zM1749.13 309.7v-88.87h4.82v88.87z" fill="#868ca2"/>
<path d="M1157.45 309.7v-57.23h4.82v57.23zM1172.74 309.7v-9.17h4.82v9.17zM1188.04 309.7v-52h4.82v52zM1203.33 309.7v-97.49h4.82v97.49zM1218.63 309.7v-60.26h4.82v60.26zM1233.92 309.7v-36.23h4.82v36.23zM1249.22 309.7v-16.88h4.82v16.88zM1264.51 309.7v-15.32h4.82v15.32zM1279.81 309.7v-8.8h4.82v8.8zM1295.1 309.7v-3.49h4.82v3.49zM1310.4 309.7v-8.07h4.82v8.07zM1325.69 309.7v-27.61h4.82v27.61zM1340.99 309.7v-3.3h4.82v3.3zM1356.28 309.7v-28.8h4.82v28.8zM1371.58 309.7v-8.25h4.82v8.25zM1386.87 309.7v-0.73h4.82v0.73zM1402.17 309.7v-36.04h4.82v36.04zM1417.46 309.7v-30.17h4.82v30.17zM1432.76 309.7v-8.44h4.82v8.44zM1448.05 309.7v-121.25h4.82v121.25zM1463.35 309.7v-16.14h4.82v16.14zM1478.64 309.7v-44.48h4.82v44.48zM1493.94 309.7v-14.03h4.82v14.03zM1509.23 309.7v-6.88h4.82v6.88zM1524.53 309.7v-3.03h4.82v3.03zM1539.82 309.7v-71.81h4.82v71.81zM1555.12 309.7v-48.15h4.82v48.15zM1570.41 309.7v-17.88h4.82v17.88zM1585.71 309.7v-120.7h4.82v120.7zM1601 309.7v-110.15h4.82v110.15zM1616.3 309.7v-14.58h4.82v14.58zM1631.59 309.7v-16.69h4.82v16.69zM1646.89 309.7v-23.39h4.82v23.39zM1662.18 309.7v-41.82h4.82v41.82zM1677.48 309.7v-3.49h4.82v3.49zM1692.77 309.7v-27.61h4.82v27.61zM1708.07 309.7v-11.92h4.82v11.92zM1723.36 309.7v-34.76h4.82v34.76zM1738.66 309.7v-49.34h4.82v49.34zM1753.95 309.7v-120.33h4.82v120.33z" fill="#fff5a5"/>
<path d="M1149.8 309.7h-3.2M1149.8 300.53h-1.8M1149.8 291.36h-3.2M1149.8 282.19h-1.8M1149.8 273.01h-3.2M1149.8 263.84h-1.8M1149.8 254.67h-3.2M1149.8 245.5h-1.8M1149.8 236.33h-3.2M1149.8 227.16h-1.8M1149.8 217.99h-3.2M1149.8 208.81h-1.8M1149.8 199.64h-3.2M1149.8 190.47h-1.8M1149.8 181.3h-3.2M1149.8 172.13h-1.8M1157.45 309.7v3M1165.1 309.7v1.7M1172.74 309.7v3M1180.39 309.7v1.7M1188.04 309.7v3M1195.68 309.7v1.7M1203.33 309.7v3M1210.98 309.7v1.7M1218.63 309.7v3M1226.28 309.7v1.7M1233.92 309.7v3M1241.57 309.7v1.7M1249.22 309.7v3M1256.87 309.7v1.7M1264.51 309.7v3M1272.16 309.7v1.7M1279.81 309.7v3M1287.45 309.7v1.7M1295.1 309.7v3M1302.75 309.7v1.7M1310.4 309.7v3M1318.05 309.7v1.7M1325.69 309.7v3M1333.34 309.7v1.7M1340.99 309.7v3M1348.63 309.7v1.7M1356.28 309.7v3M1363.93 309.7v1.7M1371.58 309.7v3M1379.23 309.7v1.7M1386.87 309.7v3M1394.52 309.7v1.7M1402.17 309.7v3M1409.82 309.7v1.7M1417.46 309.7v3M1425.11 309.7v1.7M1432.76 309.7v3M1440.41 309.7v1.7M1448.05 309.7v3M1455.7 309.7v1.7M1463.35 309.7v3M1471 309.7v1.7M1478.64 309.7v3M1486.29 309.7v1.7M1493.94 309.7v3M1501.59 309.7v1.7M1509.23 309.7v3M1516.88 309.7v1.7M1524.53 309.7v3M1532.18 309.7v1.7M1539.82 309.7v3M1547.47 309.7v1.7M1555.12 309.7v3M1562.77 309.7v1.7M1570.41 309.7v3M1578.06 309.7v1.7M1585.71 309.7v3M1593.36 309.7v1.7M1601 309.7v3M1608.65 309.7v1.7M1616.3 309.7v3M1623.95 309.7v1.7M1631.59 309.7v3M1639.24 309.7v1.7M1646.89 309.7v3M1654.54 309.7v1.7M1662.18 309.7v3M1669.83 309.7v1.7M1677.48 309.7v3M1685.13 309.7v1.7M1692.77 309.7v3M1700.42 309.7v1.7M1708.07 309.7v3M1715.72 309.7v1.7M1723.36 309.7v3M1731.01 309.7v1.7M1738.66 309.7v3M1746.31 309.7v1.7M1753.95 309.7v3M1761.6 309.7v1.7" fill="none" stroke="#5a5a5a" stroke-width="0.9"/>
<path d="M1149.8 172.13V309.7H1761.6" fill="none" stroke="#4d4d4d" stroke-width="1.25"/>
<text x="1144" y="313.3" font-size="10.5" fill="#1a1a1a" text-anchor="end" stroke="#1a1a1a" stroke-width="0.25">0</text>
<text x="1144" y="294.96" font-size="10.5" fill="#1a1a1a" text-anchor="end" stroke="#1a1a1a" stroke-width="0.25">20</text>
<text x="1144" y="276.61" font-size="10.5" fill="#1a1a1a" text-anchor="end" stroke="#1a1a1a" stroke-width="0.25">40</text>
<text x="1144" y="258.27" font-size="10.5" fill="#1a1a1a" text-anchor="end" stroke="#1a1a1a" stroke-width="0.25">60</text>
<text x="1144" y="239.93" font-size="10.5" fill="#1a1a1a" text-anchor="end" stroke="#1a1a1a" stroke-width="0.25">80</text>
<text x="1144" y="221.59" font-size="10.5" fill="#1a1a1a" text-anchor="end" stroke="#1a1a1a" stroke-width="0.25">100</text>
<text x="1144" y="203.24" font-size="10.5" fill="#1a1a1a" text-anchor="end" stroke="#1a1a1a" stroke-width="0.25">120</text>
<text x="1144" y="184.9" font-size="10.5" fill="#1a1a1a" text-anchor="end" stroke="#1a1a1a" stroke-width="0.25">140</text>
<text transform="translate(1122.7 282.3) rotate(-90)" text-anchor="start" font-size="10.8" fill="#555">种植面积<tspan font-family='"Liberation Serif","Noto Serif CJK SC",serif' fill="#3a3a3a" font-weight="bold" font-size="10.6">（10<tspan font-size="7" dy="-3.8">4</tspan><tspan dy="3.8">hm</tspan><tspan font-size="7" dy="-3.8">2</tspan><tspan dy="3.8">）</tspan></tspan></text>
<rect x="1172.33" y="173.99" width="28.13" height="13.39" fill="#868ca2"/>
<rect x="1257.67" y="173.99" width="28.32" height="13.39" fill="#fff5a5"/>
<text x="1208.3" y="185.69" font-size="14" fill="#555" text-anchor="start">优化前</text>
<text x="1293.26" y="185.69" font-size="14" fill="#555" text-anchor="start">优化后</text>
<text x="1484.06" y="201.26" font-size="18.5" fill="#333" text-anchor="middle">玉米</text>
<path d="M1151.93 456.2v-84.65h4.82v84.65zM1167.22 456.2v-12.11h4.82v12.11zM1182.52 456.2v-5.96h4.82v5.96zM1197.81 456.2v-2.11h4.82v2.11zM1213.11 456.2v-11.56h4.82v11.56zM1228.4 456.2v-0.73h4.82v0.73zM1243.7 456.2v-4.04h4.82v4.04zM1258.99 456.2v-0.55h4.82v0.55zM1274.29 456.2v-0.37h4.82v0.37zM1304.88 456.2v-0.55h4.82v0.55zM1320.17 456.2v-0.18h4.82v0.18zM1350.76 456.2v-0.73h4.82v0.73zM1396.65 456.2v-0.55h4.82v0.55zM1411.94 456.2v-0.28h4.82v0.28zM1427.24 456.2v-0.92h4.82v0.92zM1442.53 456.2v-2.29h4.82v2.29zM1457.83 456.2v-2.48h4.82v2.48zM1473.12 456.2v-1.38h4.82v1.38zM1488.42 456.2v-0.55h4.82v0.55zM1503.71 456.2v-0.55h4.82v0.55zM1519.01 456.2v-1.74h4.82v1.74zM1534.3 456.2v-4.22h4.82v4.22zM1549.6 456.2v-3.3h4.82v3.3zM1564.89 456.2v-10.91h4.82v10.91zM1580.19 456.2v-24.76h4.82v24.76zM1595.48 456.2v-81.17h4.82v81.17zM1610.78 456.2v-12.84h4.82v12.84zM1626.07 456.2v-11.1h4.82v11.1zM1641.37 456.2v-5.96h4.82v5.96zM1656.66 456.2v-6.7h4.82v6.7zM1671.96 456.2v-15.13h4.82v15.13zM1687.25 456.2v-42.37h4.82v42.37zM1702.55 456.2v-0.73h4.82v0.73zM1717.84 456.2v-22.84h4.82v22.84zM1733.14 456.2v-111.52h4.82v111.52zM1748.43 456.2v-46.22h4.82v46.22z" fill="#ffe6c4"/>
<path d="M1156.75 456.2v-66.4h4.82v66.4zM1172.04 456.2v-2.48h4.82v2.48zM1187.34 456.2v-3.3h4.82v3.3zM1202.63 456.2v-0.37h4.82v0.37zM1217.93 456.2v-9.17h4.82v9.17zM1233.22 456.2v-0.28h4.82v0.28zM1248.52 456.2v-3.49h4.82v3.49zM1263.81 456.2v-0.18h4.82v0.18zM1279.11 456.2v-0.18h4.82v0.18zM1294.4 456.2v-0.18h4.82v0.18zM1309.7 456.2v-0.18h4.82v0.18zM1324.99 456.2v-0.18h4.82v0.18zM1340.29 456.2v-0.18h4.82v0.18zM1355.58 456.2v-0.46h4.82v0.46zM1401.47 456.2v-0.92h4.82v0.92zM1432.06 456.2v-0.18h4.82v0.18zM1447.35 456.2v-1.19h4.82v1.19zM1462.65 456.2v-0.18h4.82v0.18zM1477.94 456.2v-0.18h4.82v0.18zM1523.83 456.2v-0.92h4.82v0.92zM1539.12 456.2v-3.67h4.82v3.67zM1554.42 456.2v-8.8h4.82v8.8zM1569.71 456.2v-10h4.82v10zM1585.01 456.2v-4.22h4.82v4.22zM1600.3 456.2v-75.57h4.82v75.57zM1615.6 456.2v-1.38h4.82v1.38zM1630.89 456.2v-7.06h4.82v7.06zM1646.19 456.2v-5.78h4.82v5.78zM1661.48 456.2v-5.14h4.82v5.14zM1676.78 456.2v-14.77h4.82v14.77zM1692.07 456.2v-38.15h4.82v38.15zM1707.37 456.2v-0.73h4.82v0.73zM1722.66 456.2v-13.85h4.82v13.85zM1737.96 456.2v-110.33h4.82v110.33z" fill="#879a82"/>
<path d="M1149.1 456.2h-3.2M1149.1 447.03h-1.8M1149.1 437.86h-3.2M1149.1 428.69h-1.8M1149.1 419.51h-3.2M1149.1 410.34h-1.8M1149.1 401.17h-3.2M1149.1 392h-1.8M1149.1 382.83h-3.2M1149.1 373.66h-1.8M1149.1 364.49h-3.2M1149.1 355.31h-1.8M1149.1 346.14h-3.2M1149.1 336.97h-1.8M1149.1 327.8h-3.2M1149.1 318.63h-1.8M1156.75 456.2v3M1164.39 456.2v1.7M1172.04 456.2v3M1179.69 456.2v1.7M1187.34 456.2v3M1194.98 456.2v1.7M1202.63 456.2v3M1210.28 456.2v1.7M1217.93 456.2v3M1225.58 456.2v1.7M1233.22 456.2v3M1240.87 456.2v1.7M1248.52 456.2v3M1256.16 456.2v1.7M1263.81 456.2v3M1271.46 456.2v1.7M1279.11 456.2v3M1286.76 456.2v1.7M1294.4 456.2v3M1302.05 456.2v1.7M1309.7 456.2v3M1317.35 456.2v1.7M1324.99 456.2v3M1332.64 456.2v1.7M1340.29 456.2v3M1347.93 456.2v1.7M1355.58 456.2v3M1363.23 456.2v1.7M1370.88 456.2v3M1378.53 456.2v1.7M1386.17 456.2v3M1393.82 456.2v1.7M1401.47 456.2v3M1409.12 456.2v1.7M1416.76 456.2v3M1424.41 456.2v1.7M1432.06 456.2v3M1439.7 456.2v1.7M1447.35 456.2v3M1455 456.2v1.7M1462.65 456.2v3M1470.3 456.2v1.7M1477.94 456.2v3M1485.59 456.2v1.7M1493.24 456.2v3M1500.88 456.2v1.7M1508.53 456.2v3M1516.18 456.2v1.7M1523.83 456.2v3M1531.48 456.2v1.7M1539.12 456.2v3M1546.77 456.2v1.7M1554.42 456.2v3M1562.07 456.2v1.7M1569.71 456.2v3M1577.36 456.2v1.7M1585.01 456.2v3M1592.66 456.2v1.7M1600.3 456.2v3M1607.95 456.2v1.7M1615.6 456.2v3M1623.25 456.2v1.7M1630.89 456.2v3M1638.54 456.2v1.7M1646.19 456.2v3M1653.84 456.2v1.7M1661.48 456.2v3M1669.13 456.2v1.7M1676.78 456.2v3M1684.43 456.2v1.7M1692.07 456.2v3M1699.72 456.2v1.7M1707.37 456.2v3M1715.02 456.2v1.7M1722.66 456.2v3M1730.31 456.2v1.7M1737.96 456.2v3M1745.61 456.2v1.7M1753.25 456.2v3M1760.9 456.2v1.7" fill="none" stroke="#5a5a5a" stroke-width="0.9"/>
<path d="M1149.1 318.63V456.2H1760.9" fill="none" stroke="#4d4d4d" stroke-width="1.25"/>
<text x="1143.3" y="459.8" font-size="10.5" fill="#1a1a1a" text-anchor="end" stroke="#1a1a1a" stroke-width="0.25">0</text>
<text x="1143.3" y="441.46" font-size="10.5" fill="#1a1a1a" text-anchor="end" stroke="#1a1a1a" stroke-width="0.25">20</text>
<text x="1143.3" y="423.11" font-size="10.5" fill="#1a1a1a" text-anchor="end" stroke="#1a1a1a" stroke-width="0.25">40</text>
<text x="1143.3" y="404.77" font-size="10.5" fill="#1a1a1a" text-anchor="end" stroke="#1a1a1a" stroke-width="0.25">60</text>
<text x="1143.3" y="386.43" font-size="10.5" fill="#1a1a1a" text-anchor="end" stroke="#1a1a1a" stroke-width="0.25">80</text>
<text x="1143.3" y="368.09" font-size="10.5" fill="#1a1a1a" text-anchor="end" stroke="#1a1a1a" stroke-width="0.25">100</text>
<text x="1143.3" y="349.74" font-size="10.5" fill="#1a1a1a" text-anchor="end" stroke="#1a1a1a" stroke-width="0.25">120</text>
<text x="1143.3" y="331.4" font-size="10.5" fill="#1a1a1a" text-anchor="end" stroke="#1a1a1a" stroke-width="0.25">140</text>
<text transform="translate(1122 422.8) rotate(-90)" text-anchor="start" font-size="10.8" fill="#555">种植面积<tspan font-family='"Liberation Serif","Noto Serif CJK SC",serif' fill="#3a3a3a" font-weight="bold" font-size="10.6">（10<tspan font-size="7" dy="-3.8">4</tspan><tspan dy="3.8">hm</tspan><tspan font-size="7" dy="-3.8">2</tspan><tspan dy="3.8">）</tspan></tspan></text>
<rect x="1172.71" y="324.93" width="28.13" height="13.2" fill="#ffe6c4"/>
<rect x="1257.86" y="324.93" width="28.13" height="13.2" fill="#879a82"/>
<text x="1208.3" y="336.53" font-size="14" fill="#555" text-anchor="start">优化前</text>
<text x="1293.26" y="336.53" font-size="14" fill="#555" text-anchor="start">优化后</text>
<text x="1488.94" y="347.98" font-size="18.5" fill="#333" text-anchor="middle">大豆</text>
<path d="M1151.93 602.4v-102.91h4.82v102.91zM1167.22 602.4v-13.29h4.82v13.29zM1182.52 602.4v-16.25h4.82v16.25zM1197.81 602.4v-2.46h4.82v2.46zM1213.11 602.4v-6.4h4.82v6.4zM1228.4 602.4v-0.49h4.82v0.49zM1534.3 602.4v-0.74h4.82v0.74zM1549.6 602.4v-0.49h4.82v0.49zM1733.14 602.4v-24.13h4.82v24.13zM1748.43 602.4v-0.25h4.82v0.25z" fill="#c17f7f"/>
<path d="M1156.75 602.4v-83.71h4.82v83.71zM1172.04 602.4v-11.57h4.82v11.57zM1187.34 602.4v-14.28h4.82v14.28zM1202.63 602.4v-1.48h4.82v1.48zM1217.93 602.4v-5.17h4.82v5.17zM1539.12 602.4v-0.25h4.82v0.25zM1737.96 602.4v-20.68h4.82v20.68z" fill="#b2e8d4"/>
<path d="M1149.1 602.4h-3.2M1149.1 590.09h-1.8M1149.1 577.78h-3.2M1149.1 565.47h-1.8M1149.1 553.16h-3.2M1149.1 540.85h-1.8M1149.1 528.54h-3.2M1149.1 516.23h-1.8M1149.1 503.92h-3.2M1149.1 491.61h-1.8M1149.1 479.3h-3.2M1149.1 466.99h-1.8M1156.75 602.4v3M1164.39 602.4v1.7M1172.04 602.4v3M1179.69 602.4v1.7M1187.34 602.4v3M1194.98 602.4v1.7M1202.63 602.4v3M1210.28 602.4v1.7M1217.93 602.4v3M1225.58 602.4v1.7M1233.22 602.4v3M1240.87 602.4v1.7M1248.52 602.4v3M1256.16 602.4v1.7M1263.81 602.4v3M1271.46 602.4v1.7M1279.11 602.4v3M1286.76 602.4v1.7M1294.4 602.4v3M1302.05 602.4v1.7M1309.7 602.4v3M1317.35 602.4v1.7M1324.99 602.4v3M1332.64 602.4v1.7M1340.29 602.4v3M1347.93 602.4v1.7M1355.58 602.4v3M1363.23 602.4v1.7M1370.88 602.4v3M1378.53 602.4v1.7M1386.17 602.4v3M1393.82 602.4v1.7M1401.47 602.4v3M1409.12 602.4v1.7M1416.76 602.4v3M1424.41 602.4v1.7M1432.06 602.4v3M1439.7 602.4v1.7M1447.35 602.4v3M1455 602.4v1.7M1462.65 602.4v3M1470.3 602.4v1.7M1477.94 602.4v3M1485.59 602.4v1.7M1493.24 602.4v3M1500.88 602.4v1.7M1508.53 602.4v3M1516.18 602.4v1.7M1523.83 602.4v3M1531.48 602.4v1.7M1539.12 602.4v3M1546.77 602.4v1.7M1554.42 602.4v3M1562.07 602.4v1.7M1569.71 602.4v3M1577.36 602.4v1.7M1585.01 602.4v3M1592.66 602.4v1.7M1600.3 602.4v3M1607.95 602.4v1.7M1615.6 602.4v3M1623.25 602.4v1.7M1630.89 602.4v3M1638.54 602.4v1.7M1646.19 602.4v3M1653.84 602.4v1.7M1661.48 602.4v3M1669.13 602.4v1.7M1676.78 602.4v3M1684.43 602.4v1.7M1692.07 602.4v3M1699.72 602.4v1.7M1707.37 602.4v3M1715.02 602.4v1.7M1722.66 602.4v3M1730.31 602.4v1.7M1737.96 602.4v3M1745.61 602.4v1.7M1753.25 602.4v3M1760.9 602.4v1.7" fill="none" stroke="#5a5a5a" stroke-width="0.9"/>
<path d="M1149.1 465.51V602.4H1760.9" fill="none" stroke="#4d4d4d" stroke-width="1.25"/>
<text x="1143.3" y="606" font-size="10.5" fill="#1a1a1a" text-anchor="end" stroke="#1a1a1a" stroke-width="0.25">0</text>
<text x="1143.3" y="581.38" font-size="10.5" fill="#1a1a1a" text-anchor="end" stroke="#1a1a1a" stroke-width="0.25">5</text>
<text x="1143.3" y="556.76" font-size="10.5" fill="#1a1a1a" text-anchor="end" stroke="#1a1a1a" stroke-width="0.25">10</text>
<text x="1143.3" y="532.14" font-size="10.5" fill="#1a1a1a" text-anchor="end" stroke="#1a1a1a" stroke-width="0.25">15</text>
<text x="1143.3" y="507.52" font-size="10.5" fill="#1a1a1a" text-anchor="end" stroke="#1a1a1a" stroke-width="0.25">20</text>
<text x="1143.3" y="482.9" font-size="10.5" fill="#1a1a1a" text-anchor="end" stroke="#1a1a1a" stroke-width="0.25">25</text>
<text transform="translate(1124.2 570.2) rotate(-90)" text-anchor="start" font-size="10.8" fill="#555">种植面积<tspan font-family='"Liberation Serif","Noto Serif CJK SC",serif' fill="#3a3a3a" font-weight="bold" font-size="10.6">（10<tspan font-size="7" dy="-3.8">4</tspan><tspan dy="3.8">hm</tspan><tspan font-size="7" dy="-3.8">2</tspan><tspan dy="3.8">）</tspan></tspan></text>
<rect x="1174.24" y="469.16" width="28.13" height="13.2" fill="#c17f7f"/>
<rect x="1259.78" y="469.16" width="28.13" height="13.2" fill="#b2e8d4"/>
<text x="1210.03" y="480.76" font-size="14" fill="#555" text-anchor="start">优化前</text>
<text x="1295.18" y="480.76" font-size="14" fill="#555" text-anchor="start">优化后</text>
<text x="1492.19" y="491.93" font-size="18.5" fill="#333" text-anchor="middle">小麦</text>
<text transform="translate(1161.95 607.8) rotate(-90)" text-anchor="end" font-size="10.9" fill="#606060">呼伦贝尔市</text>
<text transform="translate(1177.24 607.8) rotate(-90)" text-anchor="end" font-size="10.9" fill="#606060">大兴安岭地区</text>
<text transform="translate(1192.54 607.8) rotate(-90)" text-anchor="end" font-size="10.9" fill="#606060">赤峰市</text>
<text transform="translate(1207.83 607.8) rotate(-90)" text-anchor="end" font-size="10.9" fill="#606060">通辽市</text>
<text transform="translate(1223.13 607.8) rotate(-90)" text-anchor="end" font-size="10.9" fill="#606060">兴安盟</text>
<text transform="translate(1238.42 607.8) rotate(-90)" text-anchor="end" font-size="10.9" fill="#606060">沈阳市</text>
<text transform="translate(1253.72 607.8) rotate(-90)" text-anchor="end" font-size="10.9" fill="#606060">大连市</text>
<text transform="translate(1269.01 607.8) rotate(-90)" text-anchor="end" font-size="10.9" fill="#606060">鞍山市</text>
<text transform="translate(1284.31 607.8) rotate(-90)" text-anchor="end" font-size="10.9" fill="#606060">抚顺市</text>
<text transform="translate(1299.6 607.8) rotate(-90)" text-anchor="end" font-size="10.9" fill="#606060">本溪市</text>
<text transform="translate(1314.9 607.8) rotate(-90)" text-anchor="end" font-size="10.9" fill="#606060">丹东市</text>
<text transform="translate(1330.19 607.8) rotate(-90)" text-anchor="end" font-size="10.9" fill="#606060">锦州市</text>
<text transform="translate(1345.49 607.8) rotate(-90)" text-anchor="end" font-size="10.9" fill="#606060">营口市</text>
<text transform="translate(1360.78 607.8) rotate(-90)" text-anchor="end" font-size="10.9" fill="#606060">阜新市</text>
<text transform="translate(1376.08 607.8) rotate(-90)" text-anchor="end" font-size="10.9" fill="#606060">辽阳市</text>
<text transform="translate(1391.37 607.8) rotate(-90)" text-anchor="end" font-size="10.9" fill="#606060">盘锦市</text>
<text transform="translate(1406.67 607.8) rotate(-90)" text-anchor="end" font-size="10.9" fill="#606060">铁岭市</text>
<text transform="translate(1421.96 607.8) rotate(-90)" text-anchor="end" font-size="10.9" fill="#606060">朝阳市</text>
<text transform="translate(1437.26 607.8) rotate(-90)" text-anchor="end" font-size="10.9" fill="#606060">葫芦岛市</text>
<text transform="translate(1452.55 607.8) rotate(-90)" text-anchor="end" font-size="10.9" fill="#606060">长春市</text>
<text transform="translate(1467.85 607.8) rotate(-90)" text-anchor="end" font-size="10.9" fill="#606060">吉林市</text>
<text transform="translate(1483.14 607.8) rotate(-90)" text-anchor="end" font-size="10.9" fill="#606060">四平市</text>
<text transform="translate(1498.44 607.8) rotate(-90)" text-anchor="end" font-size="10.9" fill="#606060">辽源市</text>
<text transform="translate(1513.73 607.8) rotate(-90)" text-anchor="end" font-size="10.9" fill="#606060">通化市</text>
<text transform="translate(1529.03 607.8) rotate(-90)" text-anchor="end" font-size="10.9" fill="#606060">白山市</text>
<text transform="translate(1544.32 607.8) rotate(-90)" text-anchor="end" font-size="10.9" fill="#606060">松原市</text>
<text transform="translate(1559.62 607.8) rotate(-90)" text-anchor="end" font-size="10.9" fill="#606060">白城市</text>
<text transform="translate(1574.91 607.8) rotate(-90)" text-anchor="end" font-size="10.9" fill="#606060">延边</text>
<text transform="translate(1590.21 607.8) rotate(-90)" text-anchor="end" font-size="10.9" fill="#606060">哈尔滨市</text>
<text transform="translate(1605.5 607.8) rotate(-90)" text-anchor="end" font-size="10.9" fill="#606060">齐齐哈尔市</text>
<text transform="translate(1620.8 607.8) rotate(-90)" text-anchor="end" font-size="10.9" fill="#606060">鸡西市</text>
<text transform="translate(1636.09 607.8) rotate(-90)" text-anchor="end" font-size="10.9" fill="#606060">鹤岗市</text>
<text transform="translate(1651.39 607.8) rotate(-90)" text-anchor="end" font-size="10.9" fill="#606060">双鸭山市</text>
<text transform="translate(1666.68 607.8) rotate(-90)" text-anchor="end" font-size="10.9" fill="#606060">大庆市</text>
<text transform="translate(1681.98 607.8) rotate(-90)" text-anchor="end" font-size="10.9" fill="#606060">伊春市</text>
<text transform="translate(1697.27 607.8) rotate(-90)" text-anchor="end" font-size="10.9" fill="#606060">佳木斯市</text>
<text transform="translate(1712.57 607.8) rotate(-90)" text-anchor="end" font-size="10.9" fill="#606060">七台河市</text>
<text transform="translate(1727.86 607.8) rotate(-90)" text-anchor="end" font-size="10.9" fill="#606060">牡丹江市</text>
<text transform="translate(1743.16 607.8) rotate(-90)" text-anchor="end" font-size="10.9" fill="#606060">黑河市</text>
<text transform="translate(1758.45 607.8) rotate(-90)" text-anchor="end" font-size="10.9" fill="#606060">绥化市</text>
<text x="5" y="702.5" font-size="24.5" fill="#111" text-anchor="start">(c)</text>
<path d="M91.25 719.25A80 80 0 0 1 165.63 769.8L128.44 784.53A40 40 0 0 0 91.25 759.25Z" fill="#ffe625" stroke="#ffe625" stroke-width="0.4"/>
<path d="M165.63 769.8A80 80 0 1 1 11.61 791.72L51.43 795.49A40 40 0 1 0 128.44 784.53Z" fill="#b3dc2c" stroke="#b3dc2c" stroke-width="0.4"/>
<path d="M11.61 791.72A80 80 0 0 1 84.72 719.52L87.99 759.38A40 40 0 0 0 51.43 795.49Z" fill="#6ccb5f" stroke="#6ccb5f" stroke-width="0.4"/>
<path d="M84.72 719.52A80 80 0 0 1 91.25 719.25L91.25 759.25A40 40 0 0 0 87.99 759.38Z" fill="#30b67c" stroke="#30b67c" stroke-width="0.4"/>
<path d="M101.25 700L88 720" stroke="#8a8a8a" stroke-width="0.8" fill="none"/>
<text x="125.25" y="755.94" font-size="15.4" fill="#111" text-anchor="middle" stroke="#111" stroke-width="0.3">19%</text>
<text x="91.5" y="862.64" font-size="15.4" fill="#111" text-anchor="middle" stroke="#111" stroke-width="0.3">57.5%</text>
<text x="48.75" y="762.64" font-size="15.4" fill="#111" text-anchor="middle" stroke="#111" stroke-width="0.3">22.2%</text>
<text x="102.25" y="696.79" font-size="15.4" fill="#222" text-anchor="middle" stroke="#222" stroke-width="0.3">1.3%</text>
<text x="91.75" y="807.62" font-size="19.2" fill="#333" text-anchor="middle">优化前</text>
<path d="M95.75 1100.5A80 80 0 0 1 150.51 1122.18L123.13 1151.34A40 40 0 0 0 95.75 1140.5Z" fill="#ffe625" stroke="#ffe625" stroke-width="0.4"/>
<path d="M150.51 1122.18A80 80 0 1 1 16.38 1190.53L56.07 1185.51A40 40 0 1 0 123.13 1151.34Z" fill="#b3dc2c" stroke="#b3dc2c" stroke-width="0.4"/>
<path d="M16.38 1190.53A80 80 0 0 1 89.72 1100.73L92.74 1140.61A40 40 0 0 0 56.07 1185.51Z" fill="#6ccb5f" stroke="#6ccb5f" stroke-width="0.4"/>
<path d="M89.72 1100.73A80 80 0 0 1 95.75 1100.5L95.75 1140.5A40 40 0 0 0 92.74 1140.61Z" fill="#30b67c" stroke="#30b67c" stroke-width="0.4"/>
<path d="M101.25 1081.25L93 1100.5" stroke="#c4c4c4" stroke-width="0.8" fill="none"/>
<text x="118.1" y="1130.94" font-size="15.4" fill="#111" text-anchor="middle" stroke="#111" stroke-width="0.3">12%</text>
<text x="109.6" y="1238.64" font-size="15.4" fill="#111" text-anchor="middle" stroke="#111" stroke-width="0.3">61%</text>
<text x="49.4" y="1148.29" font-size="15.4" fill="#111" text-anchor="middle" stroke="#111" stroke-width="0.3">25.8%</text>
<text x="101.9" y="1077.44" font-size="15.4" fill="#222" text-anchor="middle" stroke="#222" stroke-width="0.3">1.2%</text>
<text x="98" y="1187.82" font-size="19.2" fill="#333" text-anchor="middle">优化后</text>
<rect x="55.5" y="948.75" width="31.5" height="15.4" fill="#ffe625"/>
<text x="96" y="961.95" font-size="15.3" fill="#555" text-anchor="start">水稻</text>
<rect x="55.5" y="966.65" width="31.5" height="15.4" fill="#b3dc2c"/>
<text x="96" y="979.85" font-size="15.3" fill="#555" text-anchor="start">玉米</text>
<rect x="55.5" y="984.55" width="31.5" height="15.4" fill="#6ccb5f"/>
<text x="96" y="997.75" font-size="15.3" fill="#555" text-anchor="start">大豆</text>
<rect x="55.5" y="1002.45" width="31.5" height="15.4" fill="#30b67c"/>
<text x="96" y="1015.65" font-size="15.3" fill="#555" text-anchor="start">小麦</text>
<path d="M162.5 896.75h4V1051.2h8L164.5 1079.2L154.5 1051.2h8z" fill="#38a700"/>
<path d="M262.62 827.2v-1.95h4.81v1.95zM293.15 827.2v-2.29h4.81v2.29zM308.42 827.2v-2.64h4.81v2.64zM323.68 827.2v-10.55h4.81v10.55zM338.95 827.2v-14.22h4.81v14.22zM354.21 827.2v-2.06h4.81v2.06zM369.48 827.2v-3.21h4.81v3.21zM384.74 827.2v-1.49h4.81v1.49zM400.01 827.2v-0.92h4.81v0.92zM415.27 827.2v-5.16h4.81v5.16zM430.54 827.2v-3.44h4.81v3.44zM445.8 827.2v-4.82h4.81v4.82zM461.07 827.2v-0.8h4.81v0.8zM476.33 827.2v-4.82h4.81v4.82zM491.6 827.2v-12.27h4.81v12.27zM506.86 827.2v-6.77h4.81v6.77zM537.39 827.2v-0.69h4.81v0.69zM552.66 827.2v-21.1h4.81v21.1zM567.92 827.2v-15.37h4.81v15.37zM583.19 827.2v-5.05h4.81v5.05zM598.45 827.2v-1.95h4.81v1.95zM613.72 827.2v-6.54h4.81v6.54zM644.25 827.2v-14.79h4.81v14.79zM659.51 827.2v-22.93h4.81v22.93zM674.78 827.2v-4.01h4.81v4.01zM690.04 827.2v-67.88h4.81v67.88zM705.31 827.2v-51.03h4.81v51.03zM720.57 827.2v-56.19h4.81v56.19zM735.84 827.2v-34.51h4.81v34.51zM751.1 827.2v-9.06h4.81v9.06zM766.37 827.2v-9.17h4.81v9.17zM781.63 827.2v-6.54h4.81v6.54zM796.9 827.2v-119.25h4.81v119.25zM812.16 827.2v-1.95h4.81v1.95zM827.43 827.2v-5.73h4.81v5.73zM842.69 827.2v-1.38h4.81v1.38zM857.96 827.2v-37.95h4.81v37.95z" fill="#00bfb0"/>
<path d="M267.43 827.2v-1.38h4.81v1.38zM297.96 827.2v-1.49h4.81v1.49zM313.23 827.2v-0.23h4.81v0.23zM343.76 827.2v-9.98h4.81v9.98zM359.02 827.2v-1.38h4.81v1.38zM374.29 827.2v-3.1h4.81v3.1zM389.55 827.2v-0.23h4.81v0.23zM404.82 827.2v-0.57h4.81v0.57zM420.08 827.2v-6.31h4.81v6.31zM435.35 827.2v-0.92h4.81v0.92zM450.61 827.2v-4.82h4.81v4.82zM481.14 827.2v-2.29h4.81v2.29zM496.41 827.2v-8.83h4.81v8.83zM511.67 827.2v-2.29h4.81v2.29zM542.2 827.2v-4.36h4.81v4.36zM572.73 827.2v-15.71h4.81v15.71zM588 827.2v-0.34h4.81v0.34zM603.26 827.2v-1.95h4.81v1.95zM618.53 827.2v-6.88h4.81v6.88zM649.06 827.2v-7.68h4.81v7.68zM664.32 827.2v-0.34h4.81v0.34zM679.59 827.2v-3.1h4.81v3.1zM694.85 827.2v-43.57h4.81v43.57zM710.12 827.2v-25.11h4.81v25.11zM725.38 827.2v-5.05h4.81v5.05zM740.65 827.2v-20.87h4.81v20.87zM755.91 827.2v-1.38h4.81v1.38zM786.44 827.2v-3.78h4.81v3.78zM801.71 827.2v-137.26h4.81v137.26zM816.97 827.2v-0.92h4.81v0.92zM832.24 827.2v-2.52h4.81v2.52zM847.5 827.2v-0.92h4.81v0.92zM862.77 827.2v-23.28h4.81v23.28z" fill="#ff7f0e"/>
<path d="M259.8 827.2h-3.2M259.8 815.73h-1.8M259.8 804.27h-3.2M259.8 792.8h-1.8M259.8 781.33h-3.2M259.8 769.87h-1.8M259.8 758.4h-3.2M259.8 746.93h-1.8M259.8 735.47h-3.2M259.8 724h-1.8M259.8 712.53h-3.2M259.8 701.07h-1.8M259.8 689.6h-3.2M267.43 827.2v3M275.06 827.2v1.7M282.7 827.2v3M290.33 827.2v1.7M297.96 827.2v3M305.59 827.2v1.7M313.23 827.2v3M320.86 827.2v1.7M328.49 827.2v3M336.12 827.2v1.7M343.76 827.2v3M351.39 827.2v1.7M359.02 827.2v3M366.65 827.2v1.7M374.29 827.2v3M381.92 827.2v1.7M389.55 827.2v3M397.19 827.2v1.7M404.82 827.2v3M412.45 827.2v1.7M420.08 827.2v3M427.71 827.2v1.7M435.35 827.2v3M442.98 827.2v1.7M450.61 827.2v3M458.24 827.2v1.7M465.88 827.2v3M473.51 827.2v1.7M481.14 827.2v3M488.77 827.2v1.7M496.41 827.2v3M504.04 827.2v1.7M511.67 827.2v3M519.3 827.2v1.7M526.94 827.2v3M534.57 827.2v1.7M542.2 827.2v3M549.83 827.2v1.7M557.47 827.2v3M565.1 827.2v1.7M572.73 827.2v3M580.37 827.2v1.7M588 827.2v3M595.63 827.2v1.7M603.26 827.2v3M610.89 827.2v1.7M618.53 827.2v3M626.16 827.2v1.7M633.79 827.2v3M641.43 827.2v1.7M649.06 827.2v3M656.69 827.2v1.7M664.32 827.2v3M671.96 827.2v1.7M679.59 827.2v3M687.22 827.2v1.7M694.85 827.2v3M702.49 827.2v1.7M710.12 827.2v3M717.75 827.2v1.7M725.38 827.2v3M733.01 827.2v1.7M740.65 827.2v3M748.28 827.2v1.7M755.91 827.2v3M763.54 827.2v1.7M771.18 827.2v3M778.81 827.2v1.7M786.44 827.2v3M794.07 827.2v1.7M801.71 827.2v3M809.34 827.2v1.7M816.97 827.2v3M824.6 827.2v1.7M832.24 827.2v3M839.87 827.2v1.7M847.5 827.2v3M855.13 827.2v1.7M862.77 827.2v3M870.4 827.2v1.7" fill="none" stroke="#5a5a5a" stroke-width="0.9"/>
<path d="M259.8 689.6V827.2H870.4" fill="none" stroke="#4d4d4d" stroke-width="1.25"/>
<text x="254" y="830.8" font-size="10.5" fill="#1a1a1a" text-anchor="end" stroke="#1a1a1a" stroke-width="0.25">0</text>
<text x="254" y="807.87" font-size="10.5" fill="#1a1a1a" text-anchor="end" stroke="#1a1a1a" stroke-width="0.25">20</text>
<text x="254" y="784.93" font-size="10.5" fill="#1a1a1a" text-anchor="end" stroke="#1a1a1a" stroke-width="0.25">40</text>
<text x="254" y="762" font-size="10.5" fill="#1a1a1a" text-anchor="end" stroke="#1a1a1a" stroke-width="0.25">60</text>
<text x="254" y="739.07" font-size="10.5" fill="#1a1a1a" text-anchor="end" stroke="#1a1a1a" stroke-width="0.25">80</text>
<text x="254" y="716.13" font-size="10.5" fill="#1a1a1a" text-anchor="end" stroke="#1a1a1a" stroke-width="0.25">100</text>
<text x="254" y="693.2" font-size="10.5" fill="#1a1a1a" text-anchor="end" stroke="#1a1a1a" stroke-width="0.25">120</text>
<text transform="translate(228.8 803.1) rotate(-90)" text-anchor="start" font-size="10.8" fill="#555">种植面积<tspan font-family='"Liberation Serif","Noto Serif CJK SC",serif' fill="#3a3a3a" font-weight="bold" font-size="10.6">（10<tspan font-size="7" dy="-3.8">4</tspan><tspan dy="3.8">hm</tspan><tspan font-size="7" dy="-3.8">2</tspan><tspan dy="3.8">）</tspan></tspan></text>
<rect x="280.8" y="689.22" width="28.32" height="13.01" fill="#00bfb0"/>
<rect x="366.14" y="689.22" width="28.32" height="13.01" fill="#ff7f0e"/>
<text x="316.77" y="700.73" font-size="14" fill="#555" text-anchor="start">优化前</text>
<text x="401.73" y="700.73" font-size="14" fill="#555" text-anchor="start">优化后</text>
<text x="587.84" y="712.76" font-size="18.5" fill="#333" text-anchor="middle">水稻</text>
<path d="M263.12 973v-36.04h4.81v36.04zM293.65 973v-53.19h4.81v53.19zM308.92 973v-97.86h4.81v97.86zM324.18 973v-63.28h4.81v63.28zM339.45 973v-35.86h4.81v35.86zM354.71 973v-17.24h4.81v17.24zM369.98 973v-16.14h4.81v16.14zM385.24 973v-8.99h4.81v8.99zM400.51 973v-3.85h4.81v3.85zM415.77 973v-10.73h4.81v10.73zM431.04 973v-27.97h4.81v27.97zM446.3 973v-4.22h4.81v4.22zM461.57 973v-28.8h4.81v28.8zM476.83 973v-7.89h4.81v7.89zM492.1 973v-1.19h4.81v1.19zM507.36 973v-35.68h4.81v35.68zM522.63 973v-30.54h4.81v30.54zM537.89 973v-12.47h4.81v12.47zM553.16 973v-122.44h4.81v122.44zM568.42 973v-44.48h4.81v44.48zM583.69 973v-47.05h4.81v47.05zM598.95 973v-18.43h4.81v18.43zM614.22 973v-13.02h4.81v13.02zM629.48 973v-3.85h4.81v3.85zM644.75 973v-72.73h4.81v72.73zM660.01 973v-46.41h4.81v46.41zM675.28 973v-18.43h4.81v18.43zM690.54 973v-100.52h4.81v100.52zM705.81 973v-98.23h4.81v98.23zM721.07 973v-25.31h4.81v25.31zM736.34 973v-9.63h4.81v9.63zM751.6 973v-22.29h4.81v22.29zM766.87 973v-40.08h4.81v40.08zM782.13 973v-4.04h4.81v4.04zM797.4 973v-31.46h4.81v31.46zM812.66 973v-11.92h4.81v11.92zM827.93 973v-29.53h4.81v29.53zM843.19 973v-48.33h4.81v48.33zM858.46 973v-88.87h4.81v88.87z" fill="#eb4d3e"/>
<path d="M267.93 973v-50.17h4.81v50.17zM283.2 973v-11.19h4.81v11.19zM298.46 973v-59.61h4.81v59.61zM313.73 973v-63.28h4.81v63.28zM328.99 973v-60.16h4.81v60.16zM344.26 973v-39.44h4.81v39.44zM359.52 973v-17.7h4.81v17.7zM374.79 973v-15.96h4.81v15.96zM390.05 973v-9.45h4.81v9.45zM405.32 973v-3.67h4.81v3.67zM420.58 973v-9.63h4.81v9.63zM435.85 973v-29.99h4.81v29.99zM451.11 973v-3.85h4.81v3.85zM466.38 973v-25.4h4.81v25.4zM481.64 973v-9.45h4.81v9.45zM496.91 973v-3.49h4.81v3.49zM512.17 973v-38.8h4.81v38.8zM527.44 973v-1.93h4.81v1.93zM542.7 973v-8.44h4.81v8.44zM557.97 973v-33.48h4.81v33.48zM573.23 973v-43.84h4.81v43.84zM588.5 973v-47.14h4.81v47.14zM603.76 973v-18.07h4.81v18.07zM619.03 973v-12.11h4.81v12.11zM634.29 973v-3.49h4.81v3.49zM649.56 973v-79.61h4.81v79.61zM664.82 973v-42.65h4.81v42.65zM680.09 973v-18.43h4.81v18.43zM695.35 973v-137.48h4.81v137.48zM710.62 973v-134.18h4.81v134.18zM725.88 973v-76.67h4.81v76.67zM741.15 973v-26.87h4.81v26.87zM756.41 973v-31.73h4.81v31.73zM771.68 973v-45.58h4.81v45.58zM786.94 973v-5.23h4.81v5.23zM802.21 973v-21.92h4.81v21.92zM817.47 973v-12.11h4.81v12.11zM832.74 973v-32.83h4.81v32.83zM848 973v-49.62h4.81v49.62zM863.27 973v-109.6h4.81v109.6z" fill="#40a0b1"/>
<path d="M260.3 973h-3.2M260.3 963.83h-1.8M260.3 954.66h-3.2M260.3 945.49h-1.8M260.3 936.31h-3.2M260.3 927.14h-1.8M260.3 917.97h-3.2M260.3 908.8h-1.8M260.3 899.63h-3.2M260.3 890.46h-1.8M260.3 881.29h-3.2M260.3 872.11h-1.8M260.3 862.94h-3.2M260.3 853.77h-1.8M260.3 844.6h-3.2M260.3 835.43h-1.8M267.93 973v3M275.56 973v1.7M283.2 973v3M290.83 973v1.7M298.46 973v3M306.09 973v1.7M313.73 973v3M321.36 973v1.7M328.99 973v3M336.62 973v1.7M344.26 973v3M351.89 973v1.7M359.52 973v3M367.15 973v1.7M374.79 973v3M382.42 973v1.7M390.05 973v3M397.69 973v1.7M405.32 973v3M412.95 973v1.7M420.58 973v3M428.21 973v1.7M435.85 973v3M443.48 973v1.7M451.11 973v3M458.74 973v1.7M466.38 973v3M474.01 973v1.7M481.64 973v3M489.27 973v1.7M496.91 973v3M504.54 973v1.7M512.17 973v3M519.8 973v1.7M527.44 973v3M535.07 973v1.7M542.7 973v3M550.33 973v1.7M557.97 973v3M565.6 973v1.7M573.23 973v3M580.87 973v1.7M588.5 973v3M596.13 973v1.7M603.76 973v3M611.39 973v1.7M619.03 973v3M626.66 973v1.7M634.29 973v3M641.93 973v1.7M649.56 973v3M657.19 973v1.7M664.82 973v3M672.46 973v1.7M680.09 973v3M687.72 973v1.7M695.35 973v3M702.99 973v1.7M710.62 973v3M718.25 973v1.7M725.88 973v3M733.51 973v1.7M741.15 973v3M748.78 973v1.7M756.41 973v3M764.04 973v1.7M771.68 973v3M779.31 973v1.7M786.94 973v3M794.57 973v1.7M802.21 973v3M809.84 973v1.7M817.47 973v3M825.1 973v1.7M832.74 973v3M840.37 973v1.7M848 973v3M855.63 973v1.7M863.27 973v3M870.9 973v1.7" fill="none" stroke="#5a5a5a" stroke-width="0.9"/>
<path d="M260.3 835.43V973H870.9" fill="none" stroke="#4d4d4d" stroke-width="1.25"/>
<text x="254.5" y="976.6" font-size="10.5" fill="#1a1a1a" text-anchor="end" stroke="#1a1a1a" stroke-width="0.25">0</text>
<text x="254.5" y="958.26" font-size="10.5" fill="#1a1a1a" text-anchor="end" stroke="#1a1a1a" stroke-width="0.25">20</text>
<text x="254.5" y="939.91" font-size="10.5" fill="#1a1a1a" text-anchor="end" stroke="#1a1a1a" stroke-width="0.25">40</text>
<text x="254.5" y="921.57" font-size="10.5" fill="#1a1a1a" text-anchor="end" stroke="#1a1a1a" stroke-width="0.25">60</text>
<text x="254.5" y="903.23" font-size="10.5" fill="#1a1a1a" text-anchor="end" stroke="#1a1a1a" stroke-width="0.25">80</text>
<text x="254.5" y="884.89" font-size="10.5" fill="#1a1a1a" text-anchor="end" stroke="#1a1a1a" stroke-width="0.25">100</text>
<text x="254.5" y="866.54" font-size="10.5" fill="#1a1a1a" text-anchor="end" stroke="#1a1a1a" stroke-width="0.25">120</text>
<text x="254.5" y="848.2" font-size="10.5" fill="#1a1a1a" text-anchor="end" stroke="#1a1a1a" stroke-width="0.25">140</text>
<text transform="translate(231.4 945.4) rotate(-90)" text-anchor="start" font-size="10.8" fill="#555">种植面积<tspan font-family='"Liberation Serif","Noto Serif CJK SC",serif' fill="#3a3a3a" font-weight="bold" font-size="10.6">（10<tspan font-size="7" dy="-3.8">4</tspan><tspan dy="3.8">hm</tspan><tspan font-size="7" dy="-3.8">2</tspan><tspan dy="3.8">）</tspan></tspan></text>
<rect x="283.29" y="837.14" width="28.13" height="13.39" fill="#eb4d3e"/>
<rect x="368.44" y="837.14" width="28.13" height="13.39" fill="#40a0b1"/>
<text x="319.07" y="848.84" font-size="14" fill="#555" text-anchor="start">优化前</text>
<text x="404.22" y="848.84" font-size="14" fill="#555" text-anchor="start">优化后</text>
<text x="589.27" y="864.41" font-size="18.5" fill="#333" text-anchor="middle">玉米</text>
<path d="M263.02 1119.6v-84.85h4.81v84.85zM278.29 1119.6v-12.13h4.81v12.13zM293.55 1119.6v-5.98h4.81v5.98zM308.82 1119.6v-2.11h4.81v2.11zM324.08 1119.6v-11.58h4.81v11.58zM339.35 1119.6v-0.74h4.81v0.74zM354.61 1119.6v-4.04h4.81v4.04zM369.88 1119.6v-0.55h4.81v0.55zM385.14 1119.6v-0.37h4.81v0.37zM415.67 1119.6v-0.55h4.81v0.55zM430.94 1119.6v-0.18h4.81v0.18zM461.47 1119.6v-0.74h4.81v0.74zM507.26 1119.6v-0.55h4.81v0.55zM522.53 1119.6v-0.28h4.81v0.28zM537.79 1119.6v-0.92h4.81v0.92zM553.06 1119.6v-2.3h4.81v2.3zM568.32 1119.6v-2.48h4.81v2.48zM583.59 1119.6v-1.38h4.81v1.38zM598.85 1119.6v-0.55h4.81v0.55zM614.12 1119.6v-0.55h4.81v0.55zM629.38 1119.6v-1.75h4.81v1.75zM644.65 1119.6v-4.23h4.81v4.23zM659.91 1119.6v-3.31h4.81v3.31zM675.18 1119.6v-10.94h4.81v10.94zM690.44 1119.6v-24.82h4.81v24.82zM705.71 1119.6v-81.36h4.81v81.36zM720.97 1119.6v-12.87h4.81v12.87zM736.24 1119.6v-11.12h4.81v11.12zM751.5 1119.6v-5.98h4.81v5.98zM766.77 1119.6v-6.71h4.81v6.71zM782.03 1119.6v-15.17h4.81v15.17zM797.3 1119.6v-42.47h4.81v42.47zM812.56 1119.6v-0.74h4.81v0.74zM827.83 1119.6v-22.89h4.81v22.89zM843.09 1119.6v-111.79h4.81v111.79zM858.36 1119.6v-46.33h4.81v46.33z" fill="#fb8c0a"/>
<path d="M267.83 1119.6v-74.09h4.81v74.09zM283.1 1119.6v-0.18h4.81v0.18zM298.36 1119.6v-0.18h4.81v0.18zM313.63 1119.6v-29.78h4.81v29.78zM328.89 1119.6v-19.86h4.81v19.86zM344.16 1119.6v-0.18h4.81v0.18zM359.42 1119.6v-3.49h4.81v3.49zM374.69 1119.6v-0.28h4.81v0.28zM389.95 1119.6v-0.37h4.81v0.37zM420.48 1119.6v-0.28h4.81v0.28zM466.28 1119.6v-3.49h4.81v3.49zM512.07 1119.6v-0.09h4.81v0.09zM527.34 1119.6v-28.13h4.81v28.13zM542.6 1119.6v-1.38h4.81v1.38zM557.87 1119.6v-107.37h4.81v107.37zM573.13 1119.6v-2.11h4.81v2.11zM588.4 1119.6v-4.04h4.81v4.04zM603.66 1119.6v-0.28h4.81v0.28zM618.93 1119.6v-0.37h4.81v0.37zM634.19 1119.6v-1.93h4.81v1.93zM649.46 1119.6v-1.56h4.81v1.56zM664.72 1119.6v-23.63h4.81v23.63zM679.99 1119.6v-10.94h4.81v10.94zM695.25 1119.6v-0.74h4.81v0.74zM710.52 1119.6v-66h4.81v66zM725.78 1119.6v-1.2h4.81v1.2zM741.05 1119.6v-4.04h4.81v4.04zM756.31 1119.6v-1.56h4.81v1.56zM771.58 1119.6v-5.79h4.81v5.79zM786.84 1119.6v-14.98h4.81v14.98zM802.11 1119.6v-34.66h4.81v34.66zM817.37 1119.6v-0.92h4.81v0.92zM832.64 1119.6v-21.33h4.81v21.33zM847.9 1119.6v-111.23h4.81v111.23zM863.17 1119.6v-36.77h4.81v36.77z" fill="#4f1168"/>
<path d="M260.2 1119.6h-3.2M260.2 1110.41h-1.8M260.2 1101.21h-3.2M260.2 1092.02h-1.8M260.2 1082.83h-3.2M260.2 1073.64h-1.8M260.2 1064.44h-3.2M260.2 1055.25h-1.8M260.2 1046.06h-3.2M260.2 1036.86h-1.8M260.2 1027.67h-3.2M260.2 1018.48h-1.8M260.2 1009.29h-3.2M260.2 1000.09h-1.8M260.2 990.9h-3.2M260.2 981.71h-1.8M267.83 1119.6v3M275.46 1119.6v1.7M283.1 1119.6v3M290.73 1119.6v1.7M298.36 1119.6v3M305.99 1119.6v1.7M313.63 1119.6v3M321.26 1119.6v1.7M328.89 1119.6v3M336.52 1119.6v1.7M344.16 1119.6v3M351.79 1119.6v1.7M359.42 1119.6v3M367.05 1119.6v1.7M374.69 1119.6v3M382.32 1119.6v1.7M389.95 1119.6v3M397.58 1119.6v1.7M405.22 1119.6v3M412.85 1119.6v1.7M420.48 1119.6v3M428.11 1119.6v1.7M435.75 1119.6v3M443.38 1119.6v1.7M451.01 1119.6v3M458.64 1119.6v1.7M466.28 1119.6v3M473.91 1119.6v1.7M481.54 1119.6v3M489.17 1119.6v1.7M496.81 1119.6v3M504.44 1119.6v1.7M512.07 1119.6v3M519.71 1119.6v1.7M527.34 1119.6v3M534.97 1119.6v1.7M542.6 1119.6v3M550.24 1119.6v1.7M557.87 1119.6v3M565.5 1119.6v1.7M573.13 1119.6v3M580.76 1119.6v1.7M588.4 1119.6v3M596.03 1119.6v1.7M603.66 1119.6v3M611.29 1119.6v1.7M618.93 1119.6v3M626.56 1119.6v1.7M634.19 1119.6v3M641.82 1119.6v1.7M649.46 1119.6v3M657.09 1119.6v1.7M664.72 1119.6v3M672.35 1119.6v1.7M679.99 1119.6v3M687.62 1119.6v1.7M695.25 1119.6v3M702.88 1119.6v1.7M710.52 1119.6v3M718.15 1119.6v1.7M725.78 1119.6v3M733.41 1119.6v1.7M741.05 1119.6v3M748.68 1119.6v1.7M756.31 1119.6v3M763.94 1119.6v1.7M771.58 1119.6v3M779.21 1119.6v1.7M786.84 1119.6v3M794.48 1119.6v1.7M802.11 1119.6v3M809.74 1119.6v1.7M817.37 1119.6v3M825 1119.6v1.7M832.64 1119.6v3M840.27 1119.6v1.7M847.9 1119.6v3M855.53 1119.6v1.7M863.17 1119.6v3M870.8 1119.6v1.7" fill="none" stroke="#5a5a5a" stroke-width="0.9"/>
<path d="M260.2 981.71V1119.6H870.8" fill="none" stroke="#4d4d4d" stroke-width="1.25"/>
<text x="254.4" y="1123.2" font-size="10.5" fill="#1a1a1a" text-anchor="end" stroke="#1a1a1a" stroke-width="0.25">0</text>
<text x="254.4" y="1104.81" font-size="10.5" fill="#1a1a1a" text-anchor="end" stroke="#1a1a1a" stroke-width="0.25">20</text>
<text x="254.4" y="1086.43" font-size="10.5" fill="#1a1a1a" text-anchor="end" stroke="#1a1a1a" stroke-width="0.25">40</text>
<text x="254.4" y="1068.04" font-size="10.5" fill="#1a1a1a" text-anchor="end" stroke="#1a1a1a" stroke-width="0.25">60</text>
<text x="254.4" y="1049.66" font-size="10.5" fill="#1a1a1a" text-anchor="end" stroke="#1a1a1a" stroke-width="0.25">80</text>
<text x="254.4" y="1031.27" font-size="10.5" fill="#1a1a1a" text-anchor="end" stroke="#1a1a1a" stroke-width="0.25">100</text>
<text x="254.4" y="1012.89" font-size="10.5" fill="#1a1a1a" text-anchor="end" stroke="#1a1a1a" stroke-width="0.25">120</text>
<text x="254.4" y="994.5" font-size="10.5" fill="#1a1a1a" text-anchor="end" stroke="#1a1a1a" stroke-width="0.25">140</text>
<text transform="translate(232.5 1086.5) rotate(-90)" text-anchor="start" font-size="10.8" fill="#555">种植面积<tspan font-family='"Liberation Serif","Noto Serif CJK SC",serif' fill="#3a3a3a" font-weight="bold" font-size="10.6">（10<tspan font-size="7" dy="-3.8">4</tspan><tspan dy="3.8">hm</tspan><tspan font-size="7" dy="-3.8">2</tspan><tspan dy="3.8">）</tspan></tspan></text>
<rect x="283.29" y="988.26" width="28.13" height="13.2" fill="#fb8c0a"/>
<rect x="368.44" y="988.26" width="28.13" height="13.2" fill="#4f1168"/>
<text x="319.07" y="999.87" font-size="14" fill="#555" text-anchor="start">优化前</text>
<text x="404.22" y="999.87" font-size="14" fill="#555" text-anchor="start">优化后</text>
<text x="594.06" y="1011.13" font-size="18.5" fill="#333" text-anchor="middle">大豆</text>
<path d="M263.02 1265.5v-102.49h4.81v102.49zM278.29 1265.5v-13.24h4.81v13.24zM293.55 1265.5v-16.18h4.81v16.18zM308.82 1265.5v-2.45h4.81v2.45zM324.08 1265.5v-6.38h4.81v6.38zM339.35 1265.5v-0.49h4.81v0.49zM644.65 1265.5v-0.74h4.81v0.74zM659.91 1265.5v-0.49h4.81v0.49zM843.09 1265.5v-24.03h4.81v24.03zM858.36 1265.5v-0.25h4.81v0.25z" fill="#ff7f0e"/>
<path d="M267.83 1265.5v-86.07h4.81v86.07zM283.1 1265.5v-14.96h4.81v14.96zM298.36 1265.5v-14.22h4.81v14.22zM313.63 1265.5v-1.96h4.81v1.96zM328.89 1265.5v-4.9h4.81v4.9zM344.16 1265.5v-0.49h4.81v0.49zM649.46 1265.5v-0.98h4.81v0.98zM664.72 1265.5v-0.25h4.81v0.25zM847.9 1265.5v-20.6h4.81v20.6zM863.17 1265.5v-0.15h4.81v0.15z" fill="#76ab42"/>
<path d="M260.2 1265.5h-3.2M260.2 1253.24h-1.8M260.2 1240.98h-3.2M260.2 1228.72h-1.8M260.2 1216.46h-3.2M260.2 1204.2h-1.8M260.2 1191.94h-3.2M260.2 1179.68h-1.8M260.2 1167.42h-3.2M260.2 1155.16h-1.8M260.2 1142.9h-3.2M260.2 1130.64h-1.8M267.83 1265.5v3M275.46 1265.5v1.7M283.1 1265.5v3M290.73 1265.5v1.7M298.36 1265.5v3M305.99 1265.5v1.7M313.63 1265.5v3M321.26 1265.5v1.7M328.89 1265.5v3M336.52 1265.5v1.7M344.16 1265.5v3M351.79 1265.5v1.7M359.42 1265.5v3M367.05 1265.5v1.7M374.69 1265.5v3M382.32 1265.5v1.7M389.95 1265.5v3M397.58 1265.5v1.7M405.22 1265.5v3M412.85 1265.5v1.7M420.48 1265.5v3M428.11 1265.5v1.7M435.75 1265.5v3M443.38 1265.5v1.7M451.01 1265.5v3M458.64 1265.5v1.7M466.28 1265.5v3M473.91 1265.5v1.7M481.54 1265.5v3M489.17 1265.5v1.7M496.81 1265.5v3M504.44 1265.5v1.7M512.07 1265.5v3M519.71 1265.5v1.7M527.34 1265.5v3M534.97 1265.5v1.7M542.6 1265.5v3M550.24 1265.5v1.7M557.87 1265.5v3M565.5 1265.5v1.7M573.13 1265.5v3M580.76 1265.5v1.7M588.4 1265.5v3M596.03 1265.5v1.7M603.66 1265.5v3M611.29 1265.5v1.7M618.93 1265.5v3M626.56 1265.5v1.7M634.19 1265.5v3M641.82 1265.5v1.7M649.46 1265.5v3M657.09 1265.5v1.7M664.72 1265.5v3M672.35 1265.5v1.7M679.99 1265.5v3M687.62 1265.5v1.7M695.25 1265.5v3M702.88 1265.5v1.7M710.52 1265.5v3M718.15 1265.5v1.7M725.78 1265.5v3M733.41 1265.5v1.7M741.05 1265.5v3M748.68 1265.5v1.7M756.31 1265.5v3M763.94 1265.5v1.7M771.58 1265.5v3M779.21 1265.5v1.7M786.84 1265.5v3M794.48 1265.5v1.7M802.11 1265.5v3M809.74 1265.5v1.7M817.37 1265.5v3M825 1265.5v1.7M832.64 1265.5v3M840.27 1265.5v1.7M847.9 1265.5v3M855.53 1265.5v1.7M863.17 1265.5v3M870.8 1265.5v1.7" fill="none" stroke="#5a5a5a" stroke-width="0.9"/>
<path d="M260.2 1129.17V1265.5H870.8" fill="none" stroke="#4d4d4d" stroke-width="1.25"/>
<text x="254.4" y="1269.1" font-size="10.5" fill="#1a1a1a" text-anchor="end" stroke="#1a1a1a" stroke-width="0.25">0</text>
<text x="254.4" y="1244.58" font-size="10.5" fill="#1a1a1a" text-anchor="end" stroke="#1a1a1a" stroke-width="0.25">5</text>
<text x="254.4" y="1220.06" font-size="10.5" fill="#1a1a1a" text-anchor="end" stroke="#1a1a1a" stroke-width="0.25">10</text>
<text x="254.4" y="1195.54" font-size="10.5" fill="#1a1a1a" text-anchor="end" stroke="#1a1a1a" stroke-width="0.25">15</text>
<text x="254.4" y="1171.02" font-size="10.5" fill="#1a1a1a" text-anchor="end" stroke="#1a1a1a" stroke-width="0.25">20</text>
<text x="254.4" y="1146.5" font-size="10.5" fill="#1a1a1a" text-anchor="end" stroke="#1a1a1a" stroke-width="0.25">25</text>
<text transform="translate(234.9 1231.9) rotate(-90)" text-anchor="start" font-size="10.8" fill="#555">种植面积<tspan font-family='"Liberation Serif","Noto Serif CJK SC",serif' fill="#3a3a3a" font-weight="bold" font-size="10.6">（10<tspan font-size="7" dy="-3.8">4</tspan><tspan dy="3.8">hm</tspan><tspan font-size="7" dy="-3.8">2</tspan><tspan dy="3.8">）</tspan></tspan></text>
<rect x="285.01" y="1132.31" width="28.32" height="13.39" fill="#ff7f0e"/>
<rect x="370.35" y="1132.31" width="28.13" height="13.39" fill="#76ab42"/>
<text x="320.98" y="1144.01" font-size="14" fill="#555" text-anchor="start">优化前</text>
<text x="406.13" y="1144.01" font-size="14" fill="#555" text-anchor="start">优化后</text>
<text x="597.41" y="1154.69" font-size="18.5" fill="#333" text-anchor="middle">小麦</text>
<text transform="translate(273.03 1270.9) rotate(-90)" text-anchor="end" font-size="10.9" fill="#606060">呼伦贝尔市</text>
<text transform="translate(288.3 1270.9) rotate(-90)" text-anchor="end" font-size="10.9" fill="#606060">大兴安岭地区</text>
<text transform="translate(303.56 1270.9) rotate(-90)" text-anchor="end" font-size="10.9" fill="#606060">赤峰市</text>
<text transform="translate(318.83 1270.9) rotate(-90)" text-anchor="end" font-size="10.9" fill="#606060">通辽市</text>
<text transform="translate(334.09 1270.9) rotate(-90)" text-anchor="end" font-size="10.9" fill="#606060">兴安盟</text>
<text transform="translate(349.36 1270.9) rotate(-90)" text-anchor="end" font-size="10.9" fill="#606060">沈阳市</text>
<text transform="translate(364.62 1270.9) rotate(-90)" text-anchor="end" font-size="10.9" fill="#606060">大连市</text>
<text transform="translate(379.89 1270.9) rotate(-90)" text-anchor="end" font-size="10.9" fill="#606060">鞍山市</text>
<text transform="translate(395.15 1270.9) rotate(-90)" text-anchor="end" font-size="10.9" fill="#606060">抚顺市</text>
<text transform="translate(410.42 1270.9) rotate(-90)" text-anchor="end" font-size="10.9" fill="#606060">本溪市</text>
<text transform="translate(425.68 1270.9) rotate(-90)" text-anchor="end" font-size="10.9" fill="#606060">丹东市</text>
<text transform="translate(440.95 1270.9) rotate(-90)" text-anchor="end" font-size="10.9" fill="#606060">锦州市</text>
<text transform="translate(456.21 1270.9) rotate(-90)" text-anchor="end" font-size="10.9" fill="#606060">营口市</text>
<text transform="translate(471.48 1270.9) rotate(-90)" text-anchor="end" font-size="10.9" fill="#606060">阜新市</text>
<text transform="translate(486.74 1270.9) rotate(-90)" text-anchor="end" font-size="10.9" fill="#606060">辽阳市</text>
<text transform="translate(502.01 1270.9) rotate(-90)" text-anchor="end" font-size="10.9" fill="#606060">盘锦市</text>
<text transform="translate(517.27 1270.9) rotate(-90)" text-anchor="end" font-size="10.9" fill="#606060">铁岭市</text>
<text transform="translate(532.54 1270.9) rotate(-90)" text-anchor="end" font-size="10.9" fill="#606060">朝阳市</text>
<text transform="translate(547.8 1270.9) rotate(-90)" text-anchor="end" font-size="10.9" fill="#606060">葫芦岛市</text>
<text transform="translate(563.07 1270.9) rotate(-90)" text-anchor="end" font-size="10.9" fill="#606060">长春市</text>
<text transform="translate(578.33 1270.9) rotate(-90)" text-anchor="end" font-size="10.9" fill="#606060">吉林市</text>
<text transform="translate(593.6 1270.9) rotate(-90)" text-anchor="end" font-size="10.9" fill="#606060">四平市</text>
<text transform="translate(608.86 1270.9) rotate(-90)" text-anchor="end" font-size="10.9" fill="#606060">辽源市</text>
<text transform="translate(624.13 1270.9) rotate(-90)" text-anchor="end" font-size="10.9" fill="#606060">通化市</text>
<text transform="translate(639.39 1270.9) rotate(-90)" text-anchor="end" font-size="10.9" fill="#606060">白山市</text>
<text transform="translate(654.66 1270.9) rotate(-90)" text-anchor="end" font-size="10.9" fill="#606060">松原市</text>
<text transform="translate(669.92 1270.9) rotate(-90)" text-anchor="end" font-size="10.9" fill="#606060">白城市</text>
<text transform="translate(685.19 1270.9) rotate(-90)" text-anchor="end" font-size="10.9" fill="#606060">延边</text>
<text transform="translate(700.45 1270.9) rotate(-90)" text-anchor="end" font-size="10.9" fill="#606060">哈尔滨市</text>
<text transform="translate(715.72 1270.9) rotate(-90)" text-anchor="end" font-size="10.9" fill="#606060">齐齐哈尔市</text>
<text transform="translate(730.98 1270.9) rotate(-90)" text-anchor="end" font-size="10.9" fill="#606060">鸡西市</text>
<text transform="translate(746.25 1270.9) rotate(-90)" text-anchor="end" font-size="10.9" fill="#606060">鹤岗市</text>
<text transform="translate(761.51 1270.9) rotate(-90)" text-anchor="end" font-size="10.9" fill="#606060">双鸭山市</text>
<text transform="translate(776.78 1270.9) rotate(-90)" text-anchor="end" font-size="10.9" fill="#606060">大庆市</text>
<text transform="translate(792.04 1270.9) rotate(-90)" text-anchor="end" font-size="10.9" fill="#606060">伊春市</text>
<text transform="translate(807.31 1270.9) rotate(-90)" text-anchor="end" font-size="10.9" fill="#606060">佳木斯市</text>
<text transform="translate(822.57 1270.9) rotate(-90)" text-anchor="end" font-size="10.9" fill="#606060">七台河市</text>
<text transform="translate(837.84 1270.9) rotate(-90)" text-anchor="end" font-size="10.9" fill="#606060">牡丹江市</text>
<text transform="translate(853.1 1270.9) rotate(-90)" text-anchor="end" font-size="10.9" fill="#606060">黑河市</text>
<text transform="translate(868.37 1270.9) rotate(-90)" text-anchor="end" font-size="10.9" fill="#606060">绥化市</text>
<text x="900" y="705.5" font-size="24.5" fill="#111" text-anchor="start">(d)</text>
<path d="M977.5 726.7A80.8 80.8 0 0 1 1052.63 777.76L1014.69 792.78A40 40 0 0 0 977.5 767.5Z" fill="#fff07d" stroke="#fff07d" stroke-width="0.4"/>
<path d="M1052.63 777.76A80.8 80.8 0 1 1 897.06 799.9L937.68 803.74A40 40 0 1 0 1014.69 792.78Z" fill="#d1ea80" stroke="#d1ea80" stroke-width="0.4"/>
<path d="M897.06 799.9A80.8 80.8 0 0 1 970.91 726.97L974.24 767.63A40 40 0 0 0 937.68 803.74Z" fill="#a6e09f" stroke="#a6e09f" stroke-width="0.4"/>
<path d="M970.91 726.97A80.8 80.8 0 0 1 977.5 726.7L977.5 767.5A40 40 0 0 0 974.24 767.63Z" fill="#83d3b0" stroke="#83d3b0" stroke-width="0.4"/>
<path d="M988 707.5L973.75 727" stroke="#8a8a8a" stroke-width="0.8" fill="none"/>
<text x="1011.9" y="763.44" font-size="15.4" fill="#222" text-anchor="middle" stroke="#222" stroke-width="0.15">19%</text>
<text x="977.5" y="871.79" font-size="15.4" fill="#222" text-anchor="middle" stroke="#222" stroke-width="0.15">57.5%</text>
<text x="934.1" y="770.29" font-size="15.4" fill="#222" text-anchor="middle" stroke="#222" stroke-width="0.15">22.2%</text>
<text x="988.1" y="703.44" font-size="15.4" fill="#222" text-anchor="middle" stroke="#222" stroke-width="0.15">1.3%</text>
<text x="977.5" y="815.72" font-size="19.2" fill="#333" text-anchor="middle">优化前</text>
<path d="M981.75 1113.45A80.8 80.8 0 0 1 1047.42 1147.17L1014.26 1170.94A40 40 0 0 0 981.75 1154.25Z" fill="#fff07d" stroke="#fff07d" stroke-width="0.4"/>
<path d="M1047.42 1147.17A80.8 80.8 0 1 1 907.2 1163.09L944.84 1178.83A40 40 0 1 0 1014.26 1170.94Z" fill="#d1ea80" stroke="#d1ea80" stroke-width="0.4"/>
<path d="M907.2 1163.09A80.8 80.8 0 0 1 976.17 1113.64L978.99 1154.35A40 40 0 0 0 944.84 1178.83Z" fill="#a6e09f" stroke="#a6e09f" stroke-width="0.4"/>
<path d="M976.17 1113.64A80.8 80.8 0 0 1 981.75 1113.45L981.75 1154.25A40 40 0 0 0 978.99 1154.35Z" fill="#83d3b0" stroke="#83d3b0" stroke-width="0.4"/>
<path d="M988.75 1092.5L979.25 1113" stroke="#c4c4c4" stroke-width="0.8" fill="none"/>
<text x="1010" y="1146.44" font-size="15.4" fill="#222" text-anchor="middle" stroke="#222" stroke-width="0.15">15.1%</text>
<text x="975.6" y="1259.54" font-size="15.4" fill="#222" text-anchor="middle" stroke="#222" stroke-width="0.15">66.2%</text>
<text x="946.9" y="1150.79" font-size="15.4" fill="#222" text-anchor="middle" stroke="#222" stroke-width="0.15">17.6%</text>
<text x="988.4" y="1089.64" font-size="15.4" fill="#222" text-anchor="middle" stroke="#222" stroke-width="0.15">1.1%</text>
<text x="983.9" y="1201.62" font-size="19.2" fill="#333" text-anchor="middle">优化后</text>
<rect x="941.25" y="959.25" width="31.5" height="15.4" fill="#fff07d"/>
<text x="982" y="972.45" font-size="15.3" fill="#555" text-anchor="start">水稻</text>
<rect x="941.25" y="977.15" width="31.5" height="15.4" fill="#d1ea80"/>
<text x="982" y="990.35" font-size="15.3" fill="#555" text-anchor="start">玉米</text>
<rect x="941.25" y="995.05" width="31.5" height="15.4" fill="#a6e09f"/>
<text x="982" y="1008.25" font-size="15.3" fill="#555" text-anchor="start">大豆</text>
<rect x="941.25" y="1012.95" width="31.5" height="15.4" fill="#83d3b0"/>
<text x="982" y="1026.15" font-size="15.3" fill="#555" text-anchor="start">小麦</text>
<path d="M1049.75 906.25h4V1063.95h8L1051.75 1091.95L1041.75 1063.95h8z" fill="#38a700"/>
<path d="M1151.67 836.1v-1.98h4.88v1.98zM1182.65 836.1v-2.33h4.88v2.33zM1198.14 836.1v-2.68h4.88v2.68zM1213.63 836.1v-10.71h4.88v10.71zM1229.12 836.1v-14.44h4.88v14.44zM1244.61 836.1v-2.1h4.88v2.1zM1260.1 836.1v-3.26h4.88v3.26zM1275.59 836.1v-1.51h4.88v1.51zM1291.08 836.1v-0.93h4.88v0.93zM1306.57 836.1v-5.24h4.88v5.24zM1322.06 836.1v-3.49h4.88v3.49zM1337.55 836.1v-4.89h4.88v4.89zM1353.04 836.1v-0.81h4.88v0.81zM1368.53 836.1v-4.89h4.88v4.89zM1384.02 836.1v-12.46h4.88v12.46zM1399.51 836.1v-6.87h4.88v6.87zM1430.49 836.1v-0.7h4.88v0.7zM1445.98 836.1v-21.42h4.88v21.42zM1461.47 836.1v-15.6h4.88v15.6zM1476.96 836.1v-5.12h4.88v5.12zM1492.45 836.1v-1.98h4.88v1.98zM1507.94 836.1v-6.64h4.88v6.64zM1538.92 836.1v-15.02h4.88v15.02zM1554.41 836.1v-23.28h4.88v23.28zM1569.9 836.1v-4.07h4.88v4.07zM1585.39 836.1v-68.92h4.88v68.92zM1600.88 836.1v-51.81h4.88v51.81zM1616.37 836.1v-57.04h4.88v57.04zM1631.86 836.1v-35.04h4.88v35.04zM1647.35 836.1v-9.2h4.88v9.2zM1662.84 836.1v-9.31h4.88v9.31zM1678.33 836.1v-6.64h4.88v6.64zM1693.82 836.1v-121.07h4.88v121.07zM1709.31 836.1v-1.98h4.88v1.98zM1724.8 836.1v-5.82h4.88v5.82zM1740.29 836.1v-1.4h4.88v1.4zM1755.78 836.1v-38.53h4.88v38.53z" fill="#66d5ce"/>
<path d="M1156.54 836.1v-2.44h4.88v2.44zM1187.52 836.1v-3.03h4.88v3.03zM1203.01 836.1v-4.66h4.88v4.66zM1218.5 836.1v-8.27h4.88v8.27zM1233.99 836.1v-11.53h4.88v11.53zM1249.48 836.1v-1.16h4.88v1.16zM1264.97 836.1v-8.03h4.88v8.03zM1280.46 836.1v-0.23h4.88v0.23zM1295.95 836.1v-0.35h4.88v0.35zM1311.44 836.1v-6.99h4.88v6.99zM1326.93 836.1v-2.33h4.88v2.33zM1342.42 836.1v-6.75h4.88v6.75zM1373.4 836.1v-2.68h4.88v2.68zM1388.89 836.1v-12.11h4.88v12.11zM1404.38 836.1v-2.68h4.88v2.68zM1435.37 836.1v-14.09h4.88v14.09zM1466.35 836.1v-56.35h4.88v56.35zM1481.84 836.1v-2.33h4.88v2.33zM1497.33 836.1v-4.07h4.88v4.07zM1512.82 836.1v-8.5h4.88v8.5zM1543.8 836.1v-15.37h4.88v15.37zM1559.29 836.1v-8.27h4.88v8.27zM1574.78 836.1v-3.03h4.88v3.03zM1590.27 836.1v-53.55h4.88v53.55zM1605.76 836.1v-25.03h4.88v25.03zM1621.25 836.1v-53.55h4.88v53.55zM1636.74 836.1v-26.19h4.88v26.19zM1652.23 836.1v-5.36h4.88v5.36zM1667.72 836.1v-6.52h4.88v6.52zM1683.2 836.1v-5.24h4.88v5.24zM1698.7 836.1v-56.81h4.88v56.81zM1714.18 836.1v-0.93h4.88v0.93zM1729.68 836.1v-3.49h4.88v3.49zM1745.16 836.1v-1.16h4.88v1.16zM1760.66 836.1v-26.89h4.88v26.89z" fill="#ffab66"/>
<path d="M1148.8 836.1h-3.2M1148.8 824.46h-1.8M1148.8 812.82h-3.2M1148.8 801.17h-1.8M1148.8 789.53h-3.2M1148.8 777.89h-1.8M1148.8 766.25h-3.2M1148.8 754.61h-1.8M1148.8 742.97h-3.2M1148.8 731.33h-1.8M1148.8 719.68h-3.2M1148.8 708.04h-1.8M1148.8 696.4h-3.2M1156.54 836.1v3M1164.29 836.1v1.7M1172.03 836.1v3M1179.78 836.1v1.7M1187.52 836.1v3M1195.27 836.1v1.7M1203.01 836.1v3M1210.76 836.1v1.7M1218.5 836.1v3M1226.25 836.1v1.7M1233.99 836.1v3M1241.74 836.1v1.7M1249.48 836.1v3M1257.23 836.1v1.7M1264.97 836.1v3M1272.72 836.1v1.7M1280.46 836.1v3M1288.21 836.1v1.7M1295.95 836.1v3M1303.7 836.1v1.7M1311.44 836.1v3M1319.19 836.1v1.7M1326.93 836.1v3M1334.68 836.1v1.7M1342.42 836.1v3M1350.17 836.1v1.7M1357.91 836.1v3M1365.66 836.1v1.7M1373.4 836.1v3M1381.15 836.1v1.7M1388.89 836.1v3M1396.64 836.1v1.7M1404.38 836.1v3M1412.13 836.1v1.7M1419.88 836.1v3M1427.62 836.1v1.7M1435.37 836.1v3M1443.11 836.1v1.7M1450.86 836.1v3M1458.6 836.1v1.7M1466.35 836.1v3M1474.09 836.1v1.7M1481.84 836.1v3M1489.58 836.1v1.7M1497.33 836.1v3M1505.07 836.1v1.7M1512.82 836.1v3M1520.56 836.1v1.7M1528.31 836.1v3M1536.05 836.1v1.7M1543.8 836.1v3M1551.54 836.1v1.7M1559.29 836.1v3M1567.03 836.1v1.7M1574.78 836.1v3M1582.52 836.1v1.7M1590.27 836.1v3M1598.01 836.1v1.7M1605.76 836.1v3M1613.5 836.1v1.7M1621.25 836.1v3M1628.99 836.1v1.7M1636.74 836.1v3M1644.48 836.1v1.7M1652.23 836.1v3M1659.97 836.1v1.7M1667.72 836.1v3M1675.46 836.1v1.7M1683.2 836.1v3M1690.95 836.1v1.7M1698.7 836.1v3M1706.44 836.1v1.7M1714.18 836.1v3M1721.93 836.1v1.7M1729.68 836.1v3M1737.42 836.1v1.7M1745.16 836.1v3M1752.91 836.1v1.7M1760.66 836.1v3M1768.4 836.1v1.7" fill="none" stroke="#5a5a5a" stroke-width="0.9"/>
<path d="M1148.8 696.4V836.1H1768.4" fill="none" stroke="#4d4d4d" stroke-width="1.25"/>
<text x="1143" y="839.7" font-size="10.5" fill="#1a1a1a" text-anchor="end" stroke="#1a1a1a" stroke-width="0.25">0</text>
<text x="1143" y="816.42" font-size="10.5" fill="#1a1a1a" text-anchor="end" stroke="#1a1a1a" stroke-width="0.25">20</text>
<text x="1143" y="793.13" font-size="10.5" fill="#1a1a1a" text-anchor="end" stroke="#1a1a1a" stroke-width="0.25">40</text>
<text x="1143" y="769.85" font-size="10.5" fill="#1a1a1a" text-anchor="end" stroke="#1a1a1a" stroke-width="0.25">60</text>
<text x="1143" y="746.57" font-size="10.5" fill="#1a1a1a" text-anchor="end" stroke="#1a1a1a" stroke-width="0.25">80</text>
<text x="1143" y="723.28" font-size="10.5" fill="#1a1a1a" text-anchor="end" stroke="#1a1a1a" stroke-width="0.25">100</text>
<text x="1143" y="700" font-size="10.5" fill="#1a1a1a" text-anchor="end" stroke="#1a1a1a" stroke-width="0.25">120</text>
<text transform="translate(1120.4 811.4) rotate(-90)" text-anchor="start" font-size="10.8" fill="#555">种植面积<tspan font-family='"Liberation Serif","Noto Serif CJK SC",serif' fill="#3a3a3a" font-weight="bold" font-size="10.6">（10<tspan font-size="7" dy="-3.8">4</tspan><tspan dy="3.8">hm</tspan><tspan font-size="7" dy="-3.8">2</tspan><tspan dy="3.8">）</tspan></tspan></text>
<rect x="1170.23" y="696.05" width="28.32" height="13.39" fill="#66d5ce"/>
<rect x="1256.91" y="696.05" width="28.13" height="13.39" fill="#ffab66"/>
<text x="1206.2" y="707.75" font-size="14" fill="#555" text-anchor="start">优化前</text>
<text x="1292.69" y="707.75" font-size="14" fill="#555" text-anchor="start">优化后</text>
<text x="1489.32" y="719.87" font-size="18.5" fill="#333" text-anchor="middle">水稻</text>
<path d="M1152.07 983.6v-36.49h4.88v36.49zM1183.05 983.6v-53.86h4.88v53.86zM1198.54 983.6v-99.08h4.88v99.08zM1214.03 983.6v-64.07h4.88v64.07zM1229.52 983.6v-36.31h4.88v36.31zM1245.01 983.6v-17.46h4.88v17.46zM1260.5 983.6v-16.34h4.88v16.34zM1275.99 983.6v-9.1h4.88v9.1zM1291.48 983.6v-3.9h4.88v3.9zM1306.97 983.6v-10.86h4.88v10.86zM1322.46 983.6v-28.32h4.88v28.32zM1337.95 983.6v-4.27h4.88v4.27zM1353.44 983.6v-29.16h4.88v29.16zM1368.93 983.6v-7.99h4.88v7.99zM1384.42 983.6v-1.21h4.88v1.21zM1399.91 983.6v-36.12h4.88v36.12zM1415.4 983.6v-30.92h4.88v30.92zM1430.89 983.6v-12.63h4.88v12.63zM1446.38 983.6v-123.96h4.88v123.96zM1461.87 983.6v-45.04h4.88v45.04zM1477.36 983.6v-47.64h4.88v47.64zM1492.85 983.6v-18.66h4.88v18.66zM1508.34 983.6v-13.19h4.88v13.19zM1523.83 983.6v-3.9h4.88v3.9zM1539.32 983.6v-73.64h4.88v73.64zM1554.81 983.6v-46.99h4.88v46.99zM1570.3 983.6v-18.66h4.88v18.66zM1585.79 983.6v-101.77h4.88v101.77zM1601.28 983.6v-99.45h4.88v99.45zM1616.77 983.6v-25.63h4.88v25.63zM1632.26 983.6v-9.75h4.88v9.75zM1647.75 983.6v-22.56h4.88v22.56zM1663.24 983.6v-40.58h4.88v40.58zM1678.73 983.6v-4.09h4.88v4.09zM1694.22 983.6v-31.85h4.88v31.85zM1709.71 983.6v-12.07h4.88v12.07zM1725.2 983.6v-29.9h4.88v29.9zM1740.69 983.6v-48.94h4.88v48.94zM1756.18 983.6v-89.98h4.88v89.98z" fill="#f0948b"/>
<path d="M1156.94 983.6v-46.34h4.88v46.34zM1172.43 983.6v-10.59h4.88v10.59zM1187.92 983.6v-54.23h4.88v54.23zM1203.41 983.6v-96.76h4.88v96.76zM1218.9 983.6v-64.44h4.88v64.44zM1234.39 983.6v-38.26h4.88v38.26zM1249.88 983.6v-17.92h4.88v17.92zM1265.38 983.6v-11.33h4.88v11.33zM1280.87 983.6v-9.66h4.88v9.66zM1296.36 983.6v-3.06h4.88v3.06zM1311.85 983.6v-8.64h4.88v8.64zM1327.34 983.6v-28.69h4.88v28.69zM1342.83 983.6v-1.3h4.88v1.3zM1358.32 983.6v-30.36h4.88v30.36zM1373.81 983.6v-9.01h4.88v9.01zM1389.3 983.6v-9.19h4.88v9.19zM1404.79 983.6v-39.46h4.88v39.46zM1420.28 983.6v-9.84h4.88v9.84zM1435.77 983.6v-1.49h4.88v1.49zM1451.26 983.6v-136.69h4.88v136.69zM1466.75 983.6v-13.46h4.88v13.46zM1482.24 983.6v-48.47h4.88v48.47zM1497.73 983.6v-16.16h4.88v16.16zM1513.22 983.6v-11.14h4.88v11.14zM1528.71 983.6v-2.88h4.88v2.88zM1544.2 983.6v-76.14h4.88v76.14zM1559.69 983.6v-40.58h4.88v40.58zM1575.18 983.6v-18.66h4.88v18.66zM1590.67 983.6v-124.43h4.88v124.43zM1606.16 983.6v-123.69h4.88v123.69zM1621.65 983.6v-40.39h4.88v40.39zM1637.14 983.6v-25.54h4.88v25.54zM1652.63 983.6v-29.06h4.88v29.06zM1668.12 983.6v-47.45h4.88v47.45zM1683.61 983.6v-4.46h4.88v4.46zM1699.1 983.6v-115.33h4.88v115.33zM1714.59 983.6v-12.07h4.88v12.07zM1730.08 983.6v-31.76h4.88v31.76zM1745.57 983.6v-50.42h4.88v50.42zM1761.06 983.6v-139.38h4.88v139.38z" fill="#8cc7d0"/>
<path d="M1149.2 983.6h-3.2M1149.2 974.31h-1.8M1149.2 965.03h-3.2M1149.2 955.74h-1.8M1149.2 946.46h-3.2M1149.2 937.17h-1.8M1149.2 927.89h-3.2M1149.2 918.6h-1.8M1149.2 909.31h-3.2M1149.2 900.03h-1.8M1149.2 890.74h-3.2M1149.2 881.46h-1.8M1149.2 872.17h-3.2M1149.2 862.89h-1.8M1149.2 853.6h-3.2M1149.2 844.31h-1.8M1156.94 983.6v3M1164.69 983.6v1.7M1172.43 983.6v3M1180.18 983.6v1.7M1187.92 983.6v3M1195.67 983.6v1.7M1203.41 983.6v3M1211.16 983.6v1.7M1218.9 983.6v3M1226.65 983.6v1.7M1234.39 983.6v3M1242.14 983.6v1.7M1249.88 983.6v3M1257.63 983.6v1.7M1265.38 983.6v3M1273.12 983.6v1.7M1280.87 983.6v3M1288.61 983.6v1.7M1296.36 983.6v3M1304.1 983.6v1.7M1311.85 983.6v3M1319.59 983.6v1.7M1327.34 983.6v3M1335.08 983.6v1.7M1342.83 983.6v3M1350.57 983.6v1.7M1358.32 983.6v3M1366.06 983.6v1.7M1373.81 983.6v3M1381.55 983.6v1.7M1389.3 983.6v3M1397.04 983.6v1.7M1404.79 983.6v3M1412.53 983.6v1.7M1420.28 983.6v3M1428.02 983.6v1.7M1435.77 983.6v3M1443.51 983.6v1.7M1451.26 983.6v3M1459 983.6v1.7M1466.75 983.6v3M1474.49 983.6v1.7M1482.24 983.6v3M1489.98 983.6v1.7M1497.73 983.6v3M1505.47 983.6v1.7M1513.22 983.6v3M1520.96 983.6v1.7M1528.71 983.6v3M1536.45 983.6v1.7M1544.2 983.6v3M1551.94 983.6v1.7M1559.69 983.6v3M1567.43 983.6v1.7M1575.18 983.6v3M1582.92 983.6v1.7M1590.67 983.6v3M1598.41 983.6v1.7M1606.16 983.6v3M1613.9 983.6v1.7M1621.65 983.6v3M1629.39 983.6v1.7M1637.14 983.6v3M1644.88 983.6v1.7M1652.63 983.6v3M1660.37 983.6v1.7M1668.12 983.6v3M1675.86 983.6v1.7M1683.61 983.6v3M1691.35 983.6v1.7M1699.1 983.6v3M1706.84 983.6v1.7M1714.59 983.6v3M1722.33 983.6v1.7M1730.08 983.6v3M1737.82 983.6v1.7M1745.57 983.6v3M1753.31 983.6v1.7M1761.06 983.6v3M1768.8 983.6v1.7" fill="none" stroke="#5a5a5a" stroke-width="0.9"/>
<path d="M1149.2 844.31V983.6H1768.8" fill="none" stroke="#4d4d4d" stroke-width="1.25"/>
<text x="1143.4" y="987.2" font-size="10.5" fill="#1a1a1a" text-anchor="end" stroke="#1a1a1a" stroke-width="0.25">0</text>
<text x="1143.4" y="968.63" font-size="10.5" fill="#1a1a1a" text-anchor="end" stroke="#1a1a1a" stroke-width="0.25">20</text>
<text x="1143.4" y="950.06" font-size="10.5" fill="#1a1a1a" text-anchor="end" stroke="#1a1a1a" stroke-width="0.25">40</text>
<text x="1143.4" y="931.49" font-size="10.5" fill="#1a1a1a" text-anchor="end" stroke="#1a1a1a" stroke-width="0.25">60</text>
<text x="1143.4" y="912.91" font-size="10.5" fill="#1a1a1a" text-anchor="end" stroke="#1a1a1a" stroke-width="0.25">80</text>
<text x="1143.4" y="894.34" font-size="10.5" fill="#1a1a1a" text-anchor="end" stroke="#1a1a1a" stroke-width="0.25">100</text>
<text x="1143.4" y="875.77" font-size="10.5" fill="#1a1a1a" text-anchor="end" stroke="#1a1a1a" stroke-width="0.25">120</text>
<text x="1143.4" y="857.2" font-size="10.5" fill="#1a1a1a" text-anchor="end" stroke="#1a1a1a" stroke-width="0.25">140</text>
<text transform="translate(1120.8 954.5) rotate(-90)" text-anchor="start" font-size="10.8" fill="#555">种植面积<tspan font-family='"Liberation Serif","Noto Serif CJK SC",serif' fill="#3a3a3a" font-weight="bold" font-size="10.6">（10<tspan font-size="7" dy="-3.8">4</tspan><tspan dy="3.8">hm</tspan><tspan font-size="7" dy="-3.8">2</tspan><tspan dy="3.8">）</tspan></tspan></text>
<rect x="1172.33" y="846.1" width="28.51" height="13.2" fill="#f0948b"/>
<rect x="1258.82" y="846.1" width="28.32" height="13.2" fill="#8cc7d0"/>
<text x="1208.5" y="857.7" font-size="14" fill="#555" text-anchor="start">优化前</text>
<text x="1294.8" y="857.7" font-size="14" fill="#555" text-anchor="start">优化后</text>
<text x="1488.36" y="873.36" font-size="18.5" fill="#333" text-anchor="middle">玉米</text>
<path d="M1151.67 1132.4v-85.97h4.88v85.97zM1167.16 1132.4v-12.29h4.88v12.29zM1182.65 1132.4v-6.05h4.88v6.05zM1198.14 1132.4v-2.14h4.88v2.14zM1213.63 1132.4v-11.74h4.88v11.74zM1229.12 1132.4v-0.75h4.88v0.75zM1244.61 1132.4v-4.1h4.88v4.1zM1260.1 1132.4v-0.56h4.88v0.56zM1275.59 1132.4v-0.37h4.88v0.37zM1306.57 1132.4v-0.56h4.88v0.56zM1322.06 1132.4v-0.19h4.88v0.19zM1353.04 1132.4v-0.75h4.88v0.75zM1399.51 1132.4v-0.56h4.88v0.56zM1415 1132.4v-0.28h4.88v0.28zM1430.49 1132.4v-0.93h4.88v0.93zM1445.98 1132.4v-2.33h4.88v2.33zM1461.47 1132.4v-2.51h4.88v2.51zM1476.96 1132.4v-1.4h4.88v1.4zM1492.45 1132.4v-0.56h4.88v0.56zM1507.94 1132.4v-0.56h4.88v0.56zM1523.43 1132.4v-1.77h4.88v1.77zM1538.92 1132.4v-4.28h4.88v4.28zM1554.41 1132.4v-3.35h4.88v3.35zM1569.9 1132.4v-11.08h4.88v11.08zM1585.39 1132.4v-25.15h4.88v25.15zM1600.88 1132.4v-82.43h4.88v82.43zM1616.37 1132.4v-13.04h4.88v13.04zM1631.86 1132.4v-11.27h4.88v11.27zM1647.35 1132.4v-6.05h4.88v6.05zM1662.84 1132.4v-6.8h4.88v6.8zM1678.33 1132.4v-15.37h4.88v15.37zM1693.82 1132.4v-43.03h4.88v43.03zM1709.31 1132.4v-0.75h4.88v0.75zM1724.8 1132.4v-23.19h4.88v23.19zM1740.29 1132.4v-113.26h4.88v113.26zM1755.78 1132.4v-46.94h4.88v46.94z" fill="#feb864"/>
<path d="M1156.54 1132.4v-77.12h4.88v77.12zM1172.03 1132.4v-1.12h4.88v1.12zM1187.52 1132.4v-3.82h4.88v3.82zM1203.01 1132.4v-1.96h4.88v1.96zM1218.5 1132.4v-11.92h4.88v11.92zM1233.99 1132.4v-0.19h4.88v0.19zM1249.48 1132.4v-2.89h4.88v2.89zM1264.97 1132.4v-0.56h4.88v0.56zM1280.46 1132.4v-0.19h4.88v0.19zM1311.44 1132.4v-0.56h4.88v0.56zM1342.42 1132.4v-0.56h4.88v0.56zM1419.88 1132.4v-20.21h4.88v20.21zM1450.86 1132.4v-4.66h4.88v4.66zM1481.84 1132.4v-1.3h4.88v1.3zM1512.82 1132.4v-0.19h4.88v0.19zM1528.31 1132.4v-1.58h4.88v1.58zM1559.29 1132.4v-20.21h4.88v20.21zM1574.78 1132.4v-10.43h4.88v10.43zM1590.27 1132.4v-13.69h4.88v13.69zM1605.76 1132.4v-77.87h4.88v77.87zM1636.74 1132.4v-0.56h4.88v0.56zM1652.23 1132.4v-0.93h4.88v0.93zM1683.2 1132.4v-14.81h4.88v14.81zM1698.7 1132.4v-8.29h4.88v8.29zM1714.18 1132.4v-0.56h4.88v0.56zM1729.68 1132.4v-21.52h4.88v21.52zM1745.16 1132.4v-111.77h4.88v111.77zM1760.66 1132.4v-4.84h4.88v4.84z" fill="#9467a5"/>
<path d="M1148.8 1132.4h-3.2M1148.8 1123.09h-1.8M1148.8 1113.77h-3.2M1148.8 1104.46h-1.8M1148.8 1095.14h-3.2M1148.8 1085.83h-1.8M1148.8 1076.51h-3.2M1148.8 1067.2h-1.8M1148.8 1057.89h-3.2M1148.8 1048.57h-1.8M1148.8 1039.26h-3.2M1148.8 1029.94h-1.8M1148.8 1020.63h-3.2M1148.8 1011.31h-1.8M1148.8 1002h-3.2M1148.8 992.69h-1.8M1156.54 1132.4v3M1164.29 1132.4v1.7M1172.03 1132.4v3M1179.78 1132.4v1.7M1187.52 1132.4v3M1195.27 1132.4v1.7M1203.01 1132.4v3M1210.76 1132.4v1.7M1218.5 1132.4v3M1226.25 1132.4v1.7M1233.99 1132.4v3M1241.74 1132.4v1.7M1249.48 1132.4v3M1257.23 1132.4v1.7M1264.97 1132.4v3M1272.72 1132.4v1.7M1280.46 1132.4v3M1288.21 1132.4v1.7M1295.95 1132.4v3M1303.7 1132.4v1.7M1311.44 1132.4v3M1319.19 1132.4v1.7M1326.93 1132.4v3M1334.68 1132.4v1.7M1342.42 1132.4v3M1350.17 1132.4v1.7M1357.91 1132.4v3M1365.66 1132.4v1.7M1373.4 1132.4v3M1381.15 1132.4v1.7M1388.89 1132.4v3M1396.64 1132.4v1.7M1404.38 1132.4v3M1412.13 1132.4v1.7M1419.88 1132.4v3M1427.62 1132.4v1.7M1435.37 1132.4v3M1443.11 1132.4v1.7M1450.86 1132.4v3M1458.6 1132.4v1.7M1466.35 1132.4v3M1474.09 1132.4v1.7M1481.84 1132.4v3M1489.58 1132.4v1.7M1497.33 1132.4v3M1505.07 1132.4v1.7M1512.82 1132.4v3M1520.56 1132.4v1.7M1528.31 1132.4v3M1536.05 1132.4v1.7M1543.8 1132.4v3M1551.54 1132.4v1.7M1559.29 1132.4v3M1567.03 1132.4v1.7M1574.78 1132.4v3M1582.52 1132.4v1.7M1590.27 1132.4v3M1598.01 1132.4v1.7M1605.76 1132.4v3M1613.5 1132.4v1.7M1621.25 1132.4v3M1628.99 1132.4v1.7M1636.74 1132.4v3M1644.48 1132.4v1.7M1652.23 1132.4v3M1659.97 1132.4v1.7M1667.72 1132.4v3M1675.46 1132.4v1.7M1683.2 1132.4v3M1690.95 1132.4v1.7M1698.7 1132.4v3M1706.44 1132.4v1.7M1714.18 1132.4v3M1721.93 1132.4v1.7M1729.68 1132.4v3M1737.42 1132.4v1.7M1745.16 1132.4v3M1752.91 1132.4v1.7M1760.66 1132.4v3M1768.4 1132.4v1.7" fill="none" stroke="#5a5a5a" stroke-width="0.9"/>
<path d="M1148.8 992.69V1132.4H1768.4" fill="none" stroke="#4d4d4d" stroke-width="1.25"/>
<text x="1143" y="1136" font-size="10.5" fill="#1a1a1a" text-anchor="end" stroke="#1a1a1a" stroke-width="0.25">0</text>
<text x="1143" y="1117.37" font-size="10.5" fill="#1a1a1a" text-anchor="end" stroke="#1a1a1a" stroke-width="0.25">20</text>
<text x="1143" y="1098.74" font-size="10.5" fill="#1a1a1a" text-anchor="end" stroke="#1a1a1a" stroke-width="0.25">40</text>
<text x="1143" y="1080.11" font-size="10.5" fill="#1a1a1a" text-anchor="end" stroke="#1a1a1a" stroke-width="0.25">60</text>
<text x="1143" y="1061.49" font-size="10.5" fill="#1a1a1a" text-anchor="end" stroke="#1a1a1a" stroke-width="0.25">80</text>
<text x="1143" y="1042.86" font-size="10.5" fill="#1a1a1a" text-anchor="end" stroke="#1a1a1a" stroke-width="0.25">100</text>
<text x="1143" y="1024.23" font-size="10.5" fill="#1a1a1a" text-anchor="end" stroke="#1a1a1a" stroke-width="0.25">120</text>
<text x="1143" y="1005.6" font-size="10.5" fill="#1a1a1a" text-anchor="end" stroke="#1a1a1a" stroke-width="0.25">140</text>
<text transform="translate(1121.2 1098.2) rotate(-90)" text-anchor="start" font-size="10.8" fill="#555">种植面积<tspan font-family='"Liberation Serif","Noto Serif CJK SC",serif' fill="#3a3a3a" font-weight="bold" font-size="10.6">（10<tspan font-size="7" dy="-3.8">4</tspan><tspan dy="3.8">hm</tspan><tspan font-size="7" dy="-3.8">2</tspan><tspan dy="3.8">）</tspan></tspan></text>
<rect x="1172.71" y="998.75" width="28.13" height="13.39" fill="#feb864"/>
<rect x="1259.2" y="998.75" width="27.94" height="13.39" fill="#9467a5"/>
<text x="1208.5" y="1010.45" font-size="14" fill="#555" text-anchor="start">优化前</text>
<text x="1294.8" y="1010.45" font-size="14" fill="#555" text-anchor="start">优化后</text>
<text x="1486.64" y="1022.48" font-size="18.5" fill="#333" text-anchor="middle">大豆</text>
<path d="M1151.67 1280.6v-104.67h4.88v104.67zM1167.16 1280.6v-13.52h4.88v13.52zM1182.65 1280.6v-16.53h4.88v16.53zM1198.14 1280.6v-2.5h4.88v2.5zM1213.63 1280.6v-6.51h4.88v6.51zM1229.12 1280.6v-0.5h4.88v0.5zM1538.92 1280.6v-0.75h4.88v0.75zM1554.41 1280.6v-0.5h4.88v0.5zM1740.29 1280.6v-24.54h4.88v24.54zM1755.78 1280.6v-0.25h4.88v0.25z" fill="#ffab66"/>
<path d="M1156.54 1280.6v-84.13h4.88v84.13zM1172.03 1280.6v-10.52h4.88v10.52zM1187.52 1280.6v-13.02h4.88v13.02zM1203.01 1280.6v-2h4.88v2zM1218.5 1280.6v-6.36h4.88v6.36zM1543.8 1280.6v-0.25h4.88v0.25zM1745.16 1280.6v-19.53h4.88v19.53z" fill="#a9cc8a"/>
<path d="M1148.8 1280.6h-3.2M1148.8 1268.08h-1.8M1148.8 1255.56h-3.2M1148.8 1243.04h-1.8M1148.8 1230.52h-3.2M1148.8 1218h-1.8M1148.8 1205.48h-3.2M1148.8 1192.96h-1.8M1148.8 1180.44h-3.2M1148.8 1167.92h-1.8M1148.8 1155.4h-3.2M1148.8 1142.88h-1.8M1156.54 1280.6v3M1164.29 1280.6v1.7M1172.03 1280.6v3M1179.78 1280.6v1.7M1187.52 1280.6v3M1195.27 1280.6v1.7M1203.01 1280.6v3M1210.76 1280.6v1.7M1218.5 1280.6v3M1226.25 1280.6v1.7M1233.99 1280.6v3M1241.74 1280.6v1.7M1249.48 1280.6v3M1257.23 1280.6v1.7M1264.97 1280.6v3M1272.72 1280.6v1.7M1280.46 1280.6v3M1288.21 1280.6v1.7M1295.95 1280.6v3M1303.7 1280.6v1.7M1311.44 1280.6v3M1319.19 1280.6v1.7M1326.93 1280.6v3M1334.68 1280.6v1.7M1342.42 1280.6v3M1350.17 1280.6v1.7M1357.91 1280.6v3M1365.66 1280.6v1.7M1373.4 1280.6v3M1381.15 1280.6v1.7M1388.89 1280.6v3M1396.64 1280.6v1.7M1404.38 1280.6v3M1412.13 1280.6v1.7M1419.88 1280.6v3M1427.62 1280.6v1.7M1435.37 1280.6v3M1443.11 1280.6v1.7M1450.86 1280.6v3M1458.6 1280.6v1.7M1466.35 1280.6v3M1474.09 1280.6v1.7M1481.84 1280.6v3M1489.58 1280.6v1.7M1497.33 1280.6v3M1505.07 1280.6v1.7M1512.82 1280.6v3M1520.56 1280.6v1.7M1528.31 1280.6v3M1536.05 1280.6v1.7M1543.8 1280.6v3M1551.54 1280.6v1.7M1559.29 1280.6v3M1567.03 1280.6v1.7M1574.78 1280.6v3M1582.52 1280.6v1.7M1590.27 1280.6v3M1598.01 1280.6v1.7M1605.76 1280.6v3M1613.5 1280.6v1.7M1621.25 1280.6v3M1628.99 1280.6v1.7M1636.74 1280.6v3M1644.48 1280.6v1.7M1652.23 1280.6v3M1659.97 1280.6v1.7M1667.72 1280.6v3M1675.46 1280.6v1.7M1683.2 1280.6v3M1690.95 1280.6v1.7M1698.7 1280.6v3M1706.44 1280.6v1.7M1714.18 1280.6v3M1721.93 1280.6v1.7M1729.68 1280.6v3M1737.42 1280.6v1.7M1745.16 1280.6v3M1752.91 1280.6v1.7M1760.66 1280.6v3M1768.4 1280.6v1.7" fill="none" stroke="#5a5a5a" stroke-width="0.9"/>
<path d="M1148.8 1141.38V1280.6H1768.4" fill="none" stroke="#4d4d4d" stroke-width="1.25"/>
<text x="1143" y="1284.2" font-size="10.5" fill="#1a1a1a" text-anchor="end" stroke="#1a1a1a" stroke-width="0.25">0</text>
<text x="1143" y="1259.16" font-size="10.5" fill="#1a1a1a" text-anchor="end" stroke="#1a1a1a" stroke-width="0.25">5</text>
<text x="1143" y="1234.12" font-size="10.5" fill="#1a1a1a" text-anchor="end" stroke="#1a1a1a" stroke-width="0.25">10</text>
<text x="1143" y="1209.08" font-size="10.5" fill="#1a1a1a" text-anchor="end" stroke="#1a1a1a" stroke-width="0.25">15</text>
<text x="1143" y="1184.04" font-size="10.5" fill="#1a1a1a" text-anchor="end" stroke="#1a1a1a" stroke-width="0.25">20</text>
<text x="1143" y="1159" font-size="10.5" fill="#1a1a1a" text-anchor="end" stroke="#1a1a1a" stroke-width="0.25">25</text>
<text transform="translate(1123.9 1247.3) rotate(-90)" text-anchor="start" font-size="10.8" fill="#555">种植面积<tspan font-family='"Liberation Serif","Noto Serif CJK SC",serif' fill="#3a3a3a" font-weight="bold" font-size="10.6">（10<tspan font-size="7" dy="-3.8">4</tspan><tspan dy="3.8">hm</tspan><tspan font-size="7" dy="-3.8">2</tspan><tspan dy="3.8">）</tspan></tspan></text>
<rect x="1174.24" y="1145.31" width="28.51" height="13.39" fill="#ffab66"/>
<rect x="1260.73" y="1145.31" width="28.32" height="13.39" fill="#a9cc8a"/>
<text x="1210.22" y="1157.01" font-size="14" fill="#555" text-anchor="start">优化前</text>
<text x="1296.71" y="1157.01" font-size="14" fill="#555" text-anchor="start">优化后</text>
<text x="1486.35" y="1167.69" font-size="18.5" fill="#333" text-anchor="middle">小麦</text>
<text transform="translate(1161.74 1286) rotate(-90)" text-anchor="end" font-size="10.9" fill="#484848" font-family='"Liberation Serif","Noto Serif CJK SC",serif' font-weight="500">呼伦贝尔市</text>
<text transform="translate(1177.23 1286) rotate(-90)" text-anchor="end" font-size="10.9" fill="#484848" font-family='"Liberation Serif","Noto Serif CJK SC",serif' font-weight="500">大兴安岭地区</text>
<text transform="translate(1192.72 1286) rotate(-90)" text-anchor="end" font-size="10.9" fill="#484848" font-family='"Liberation Serif","Noto Serif CJK SC",serif' font-weight="500">赤峰市</text>
<text transform="translate(1208.21 1286) rotate(-90)" text-anchor="end" font-size="10.9" fill="#484848" font-family='"Liberation Serif","Noto Serif CJK SC",serif' font-weight="500">通辽市</text>
<text transform="translate(1223.7 1286) rotate(-90)" text-anchor="end" font-size="10.9" fill="#484848" font-family='"Liberation Serif","Noto Serif CJK SC",serif' font-weight="500">兴安盟</text>
<text transform="translate(1239.19 1286) rotate(-90)" text-anchor="end" font-size="10.9" fill="#484848" font-family='"Liberation Serif","Noto Serif CJK SC",serif' font-weight="500">沈阳市</text>
<text transform="translate(1254.68 1286) rotate(-90)" text-anchor="end" font-size="10.9" fill="#484848" font-family='"Liberation Serif","Noto Serif CJK SC",serif' font-weight="500">大连市</text>
<text transform="translate(1270.17 1286) rotate(-90)" text-anchor="end" font-size="10.9" fill="#484848" font-family='"Liberation Serif","Noto Serif CJK SC",serif' font-weight="500">鞍山市</text>
<text transform="translate(1285.66 1286) rotate(-90)" text-anchor="end" font-size="10.9" fill="#484848" font-family='"Liberation Serif","Noto Serif CJK SC",serif' font-weight="500">抚顺市</text>
<text transform="translate(1301.15 1286) rotate(-90)" text-anchor="end" font-size="10.9" fill="#484848" font-family='"Liberation Serif","Noto Serif CJK SC",serif' font-weight="500">本溪市</text>
<text transform="translate(1316.64 1286) rotate(-90)" text-anchor="end" font-size="10.9" fill="#484848" font-family='"Liberation Serif","Noto Serif CJK SC",serif' font-weight="500">丹东市</text>
<text transform="translate(1332.13 1286) rotate(-90)" text-anchor="end" font-size="10.9" fill="#484848" font-family='"Liberation Serif","Noto Serif CJK SC",serif' font-weight="500">锦州市</text>
<text transform="translate(1347.62 1286) rotate(-90)" text-anchor="end" font-size="10.9" fill="#484848" font-family='"Liberation Serif","Noto Serif CJK SC",serif' font-weight="500">营口市</text>
<text transform="translate(1363.12 1286) rotate(-90)" text-anchor="end" font-size="10.9" fill="#484848" font-family='"Liberation Serif","Noto Serif CJK SC",serif' font-weight="500">阜新市</text>
<text transform="translate(1378.61 1286) rotate(-90)" text-anchor="end" font-size="10.9" fill="#484848" font-family='"Liberation Serif","Noto Serif CJK SC",serif' font-weight="500">辽阳市</text>
<text transform="translate(1394.1 1286) rotate(-90)" text-anchor="end" font-size="10.9" fill="#484848" font-family='"Liberation Serif","Noto Serif CJK SC",serif' font-weight="500">盘锦市</text>
<text transform="translate(1409.59 1286) rotate(-90)" text-anchor="end" font-size="10.9" fill="#484848" font-family='"Liberation Serif","Noto Serif CJK SC",serif' font-weight="500">铁岭市</text>
<text transform="translate(1425.08 1286) rotate(-90)" text-anchor="end" font-size="10.9" fill="#484848" font-family='"Liberation Serif","Noto Serif CJK SC",serif' font-weight="500">朝阳市</text>
<text transform="translate(1440.57 1286) rotate(-90)" text-anchor="end" font-size="10.9" fill="#484848" font-family='"Liberation Serif","Noto Serif CJK SC",serif' font-weight="500">葫芦岛市</text>
<text transform="translate(1456.06 1286) rotate(-90)" text-anchor="end" font-size="10.9" fill="#484848" font-family='"Liberation Serif","Noto Serif CJK SC",serif' font-weight="500">长春市</text>
<text transform="translate(1471.55 1286) rotate(-90)" text-anchor="end" font-size="10.9" fill="#484848" font-family='"Liberation Serif","Noto Serif CJK SC",serif' font-weight="500">吉林市</text>
<text transform="translate(1487.04 1286) rotate(-90)" text-anchor="end" font-size="10.9" fill="#484848" font-family='"Liberation Serif","Noto Serif CJK SC",serif' font-weight="500">四平市</text>
<text transform="translate(1502.53 1286) rotate(-90)" text-anchor="end" font-size="10.9" fill="#484848" font-family='"Liberation Serif","Noto Serif CJK SC",serif' font-weight="500">辽源市</text>
<text transform="translate(1518.02 1286) rotate(-90)" text-anchor="end" font-size="10.9" fill="#484848" font-family='"Liberation Serif","Noto Serif CJK SC",serif' font-weight="500">通化市</text>
<text transform="translate(1533.51 1286) rotate(-90)" text-anchor="end" font-size="10.9" fill="#484848" font-family='"Liberation Serif","Noto Serif CJK SC",serif' font-weight="500">白山市</text>
<text transform="translate(1549 1286) rotate(-90)" text-anchor="end" font-size="10.9" fill="#484848" font-family='"Liberation Serif","Noto Serif CJK SC",serif' font-weight="500">松原市</text>
<text transform="translate(1564.49 1286) rotate(-90)" text-anchor="end" font-size="10.9" fill="#484848" font-family='"Liberation Serif","Noto Serif CJK SC",serif' font-weight="500">白城市</text>
<text transform="translate(1579.98 1286) rotate(-90)" text-anchor="end" font-size="10.9" fill="#484848" font-family='"Liberation Serif","Noto Serif CJK SC",serif' font-weight="500">延边</text>
<text transform="translate(1595.47 1286) rotate(-90)" text-anchor="end" font-size="10.9" fill="#484848" font-family='"Liberation Serif","Noto Serif CJK SC",serif' font-weight="500">哈尔滨市</text>
<text transform="translate(1610.96 1286) rotate(-90)" text-anchor="end" font-size="10.9" fill="#484848" font-family='"Liberation Serif","Noto Serif CJK SC",serif' font-weight="500">齐齐哈尔市</text>
<text transform="translate(1626.45 1286) rotate(-90)" text-anchor="end" font-size="10.9" fill="#484848" font-family='"Liberation Serif","Noto Serif CJK SC",serif' font-weight="500">鸡西市</text>
<text transform="translate(1641.94 1286) rotate(-90)" text-anchor="end" font-size="10.9" fill="#484848" font-family='"Liberation Serif","Noto Serif CJK SC",serif' font-weight="500">鹤岗市</text>
<text transform="translate(1657.43 1286) rotate(-90)" text-anchor="end" font-size="10.9" fill="#484848" font-family='"Liberation Serif","Noto Serif CJK SC",serif' font-weight="500">双鸭山市</text>
<text transform="translate(1672.92 1286) rotate(-90)" text-anchor="end" font-size="10.9" fill="#484848" font-family='"Liberation Serif","Noto Serif CJK SC",serif' font-weight="500">大庆市</text>
<text transform="translate(1688.4 1286) rotate(-90)" text-anchor="end" font-size="10.9" fill="#484848" font-family='"Liberation Serif","Noto Serif CJK SC",serif' font-weight="500">伊春市</text>
<text transform="translate(1703.9 1286) rotate(-90)" text-anchor="end" font-size="10.9" fill="#484848" font-family='"Liberation Serif","Noto Serif CJK SC",serif' font-weight="500">佳木斯市</text>
<text transform="translate(1719.38 1286) rotate(-90)" text-anchor="end" font-size="10.9" fill="#484848" font-family='"Liberation Serif","Noto Serif CJK SC",serif' font-weight="500">七台河市</text>
<text transform="translate(1734.88 1286) rotate(-90)" text-anchor="end" font-size="10.9" fill="#484848" font-family='"Liberation Serif","Noto Serif CJK SC",serif' font-weight="500">牡丹江市</text>
<text transform="translate(1750.37 1286) rotate(-90)" text-anchor="end" font-size="10.9" fill="#484848" font-family='"Liberation Serif","Noto Serif CJK SC",serif' font-weight="500">黑河市</text>
<text transform="translate(1765.86 1286) rotate(-90)" text-anchor="end" font-size="10.9" fill="#484848" font-family='"Liberation Serif","Noto Serif CJK SC",serif' font-weight="500">绥化市</text>
</svg>
</body></html>
